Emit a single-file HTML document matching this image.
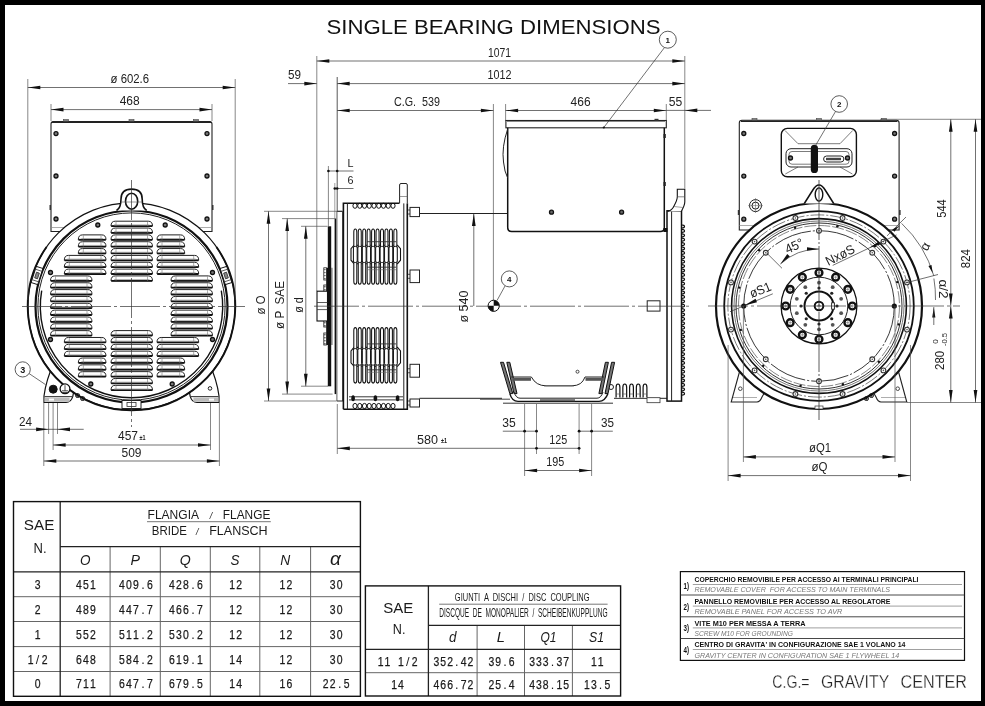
<!DOCTYPE html>
<html><head><meta charset="utf-8"><style>
html,body{margin:0;padding:0;background:#000;}
body{width:985px;height:706px;overflow:hidden;position:relative;}
svg{position:absolute;left:0;top:0;filter:grayscale(100%);}
</style></head><body>
<svg width="985" height="706" viewBox="0 0 985 706" shape-rendering="geometricPrecision">
<rect x="0" y="0" width="985" height="706" fill="#000"/>
<rect x="5" y="5" width="976" height="696" fill="#fff"/>
<text xml:space="preserve" x="326.50" y="34.00" font-family="Liberation Sans" font-size="20" font-weight="normal" fill="#111" text-anchor="start" textLength="334" lengthAdjust="spacingAndGlyphs" >SINGLE BEARING DIMENSIONS</text>
<path d="M51,231.5 L51,124 Q51,121.5 53.5,121.5 L209.5,121.5 Q212,121.5 212,124 L212,231.5 Z" stroke="#222" stroke-width="1.1" fill="none" />
<line x1="52.00" y1="122.30" x2="211.00" y2="122.30" stroke="#222" stroke-width="1.6" />
<rect x="63.50" y="119.60" width="5.00" height="1.60" rx="0" stroke="#444" stroke-width="0.6" fill="#888" />
<rect x="129.00" y="119.60" width="5.00" height="1.60" rx="0" stroke="#444" stroke-width="0.6" fill="#888" />
<rect x="193.50" y="119.60" width="5.00" height="1.60" rx="0" stroke="#444" stroke-width="0.6" fill="#888" />
<line x1="51.00" y1="227.50" x2="212.00" y2="227.50" stroke="#888" stroke-width="0.7" />
<circle cx="56.00" cy="133.60" r="2.00" stroke="#111" stroke-width="1.3" fill="#777" />
<circle cx="56.00" cy="176.00" r="2.00" stroke="#111" stroke-width="1.3" fill="#777" />
<circle cx="56.00" cy="219.00" r="2.00" stroke="#111" stroke-width="1.3" fill="#777" />
<circle cx="207.00" cy="133.60" r="2.00" stroke="#111" stroke-width="1.3" fill="#777" />
<circle cx="207.00" cy="176.00" r="2.00" stroke="#111" stroke-width="1.3" fill="#777" />
<circle cx="207.00" cy="219.00" r="2.00" stroke="#111" stroke-width="1.3" fill="#777" />
<rect x="49.50" y="205.00" width="1.50" height="5.00" rx="0" stroke="#111" stroke-width="0" fill="#333" />
<rect x="212.00" y="205.00" width="1.50" height="5.00" rx="0" stroke="#111" stroke-width="0" fill="#333" />
<path d="M44,402.5 L44,396 Q46,380 54.3,362 L62,362 L75.5,382 L72.8,396.4 Q71,402.5 66,402.5 Z" stroke="#111" stroke-width="1.2" fill="#fff" />
<path d="M219,402.5 L219,396 Q217,380 208.7,362 L201,362 L187.5,382 L190.2,396.4 Q192,402.5 197,402.5 Z" stroke="#111" stroke-width="1.2" fill="#fff" />
<line x1="44.50" y1="396.60" x2="72.00" y2="396.60" stroke="#333" stroke-width="1.0" />
<line x1="191.00" y1="396.60" x2="218.50" y2="396.60" stroke="#333" stroke-width="1.0" />
<rect x="44.60" y="397.40" width="25.00" height="4.40" rx="0" stroke="#111" stroke-width="0" fill="#bbb" />
<rect x="193.40" y="397.40" width="25.00" height="4.40" rx="0" stroke="#111" stroke-width="0" fill="#bbb" />
<rect x="49.00" y="398.60" width="5.00" height="2.00" rx="0" stroke="#111" stroke-width="0" fill="#fff" />
<rect x="209.00" y="398.60" width="5.00" height="2.00" rx="0" stroke="#111" stroke-width="0" fill="#fff" />
<line x1="50.60" y1="371.20" x2="62.80" y2="383.00" stroke="#222" stroke-width="0.9" />
<line x1="212.40" y1="371.20" x2="200.20" y2="383.00" stroke="#222" stroke-width="0.9" />
<circle cx="210.00" cy="388.40" r="1.80" stroke="#222" stroke-width="1.0" fill="none" />
<circle cx="131.50" cy="306.50" r="103.70" stroke="#111" stroke-width="1.2" fill="#fff" />
<path d="M46.55,247.02 A103.7,103.7 0 1 0 216.45,247.02" stroke="#111" stroke-width="1.9" fill="none" />
<circle cx="131.50" cy="306.50" r="96.00" stroke="#111" stroke-width="2.2" fill="none" />
<circle cx="131.50" cy="306.50" r="93.60" stroke="#222" stroke-width="1.0" fill="none" />
<path d="M41.69,290.66 A91.2,91.2 0 1 0 221.31,290.66" stroke="#111" stroke-width="1.4" fill="none" />
<g transform="rotate(18 37.00 275.5)"><rect x="33.50" y="267" width="7" height="17" fill="#fff" stroke="#111" stroke-width="1.0"/><line x1="33.50" y1="270" x2="40.50" y2="270" stroke="#444" stroke-width="0.8"/><line x1="33.50" y1="281" x2="40.50" y2="281" stroke="#444" stroke-width="0.8"/><rect x="35.50" y="272.5" width="3" height="6" fill="#888" stroke="#222" stroke-width="0.7"/></g>
<g transform="rotate(-18 226.00 275.5)"><rect x="222.50" y="267" width="7" height="17" fill="#fff" stroke="#111" stroke-width="1.0"/><line x1="222.50" y1="270" x2="229.50" y2="270" stroke="#444" stroke-width="0.8"/><line x1="222.50" y1="281" x2="229.50" y2="281" stroke="#444" stroke-width="0.8"/><rect x="224.50" y="272.5" width="3" height="6" fill="#888" stroke="#222" stroke-width="0.7"/></g>
<rect x="122.00" y="400.50" width="19.00" height="8.00" rx="0" stroke="#222" stroke-width="1.0" fill="#fff" />
<rect x="127.00" y="402.50" width="9.00" height="4.00" rx="0" stroke="#333" stroke-width="0.8" fill="none" />
<path d="M111.00,226.10 Q111.00,221.20 115.20,221.20 L148.30,221.20 Q152.50,221.20 152.50,226.10 Z" stroke="#222" stroke-width="1.0" fill="none" />
<line x1="111.30" y1="226.10" x2="152.20" y2="226.10" stroke="#111" stroke-width="1.8" />
<line x1="114.00" y1="224.90" x2="149.50" y2="224.90" stroke="#999" stroke-width="0.8" />
<line x1="116.00" y1="221.70" x2="116.00" y2="226.10" stroke="#777" stroke-width="0.6" />
<line x1="147.50" y1="221.70" x2="147.50" y2="226.10" stroke="#777" stroke-width="0.6" />
<path d="M111.00,232.94 Q111.00,228.04 115.20,228.04 L148.30,228.04 Q152.50,228.04 152.50,232.94 Z" stroke="#222" stroke-width="1.0" fill="none" />
<line x1="111.30" y1="232.94" x2="152.20" y2="232.94" stroke="#111" stroke-width="1.8" />
<line x1="114.00" y1="231.74" x2="149.50" y2="231.74" stroke="#999" stroke-width="0.8" />
<line x1="116.00" y1="228.54" x2="116.00" y2="232.94" stroke="#777" stroke-width="0.6" />
<line x1="147.50" y1="228.54" x2="147.50" y2="232.94" stroke="#777" stroke-width="0.6" />
<path d="M111.00,239.78 Q111.00,234.88 115.20,234.88 L148.30,234.88 Q152.50,234.88 152.50,239.78 Z" stroke="#222" stroke-width="1.0" fill="none" />
<line x1="111.30" y1="239.78" x2="152.20" y2="239.78" stroke="#111" stroke-width="1.8" />
<line x1="114.00" y1="238.58" x2="149.50" y2="238.58" stroke="#999" stroke-width="0.8" />
<line x1="116.00" y1="235.38" x2="116.00" y2="239.78" stroke="#777" stroke-width="0.6" />
<line x1="147.50" y1="235.38" x2="147.50" y2="239.78" stroke="#777" stroke-width="0.6" />
<path d="M111.00,246.62 Q111.00,241.72 115.20,241.72 L148.30,241.72 Q152.50,241.72 152.50,246.62 Z" stroke="#222" stroke-width="1.0" fill="none" />
<line x1="111.30" y1="246.62" x2="152.20" y2="246.62" stroke="#111" stroke-width="1.8" />
<line x1="114.00" y1="245.42" x2="149.50" y2="245.42" stroke="#999" stroke-width="0.8" />
<line x1="116.00" y1="242.22" x2="116.00" y2="246.62" stroke="#777" stroke-width="0.6" />
<line x1="147.50" y1="242.22" x2="147.50" y2="246.62" stroke="#777" stroke-width="0.6" />
<path d="M111.00,253.46 Q111.00,248.56 115.20,248.56 L148.30,248.56 Q152.50,248.56 152.50,253.46 Z" stroke="#222" stroke-width="1.0" fill="none" />
<line x1="111.30" y1="253.46" x2="152.20" y2="253.46" stroke="#111" stroke-width="1.8" />
<line x1="114.00" y1="252.26" x2="149.50" y2="252.26" stroke="#999" stroke-width="0.8" />
<line x1="116.00" y1="249.06" x2="116.00" y2="253.46" stroke="#777" stroke-width="0.6" />
<line x1="147.50" y1="249.06" x2="147.50" y2="253.46" stroke="#777" stroke-width="0.6" />
<path d="M111.00,260.30 Q111.00,255.40 115.20,255.40 L148.30,255.40 Q152.50,255.40 152.50,260.30 Z" stroke="#222" stroke-width="1.0" fill="none" />
<line x1="111.30" y1="260.30" x2="152.20" y2="260.30" stroke="#111" stroke-width="1.8" />
<line x1="114.00" y1="259.10" x2="149.50" y2="259.10" stroke="#999" stroke-width="0.8" />
<line x1="116.00" y1="255.90" x2="116.00" y2="260.30" stroke="#777" stroke-width="0.6" />
<line x1="147.50" y1="255.90" x2="147.50" y2="260.30" stroke="#777" stroke-width="0.6" />
<path d="M111.00,267.14 Q111.00,262.24 115.20,262.24 L148.30,262.24 Q152.50,262.24 152.50,267.14 Z" stroke="#222" stroke-width="1.0" fill="none" />
<line x1="111.30" y1="267.14" x2="152.20" y2="267.14" stroke="#111" stroke-width="1.8" />
<line x1="114.00" y1="265.94" x2="149.50" y2="265.94" stroke="#999" stroke-width="0.8" />
<line x1="116.00" y1="262.74" x2="116.00" y2="267.14" stroke="#777" stroke-width="0.6" />
<line x1="147.50" y1="262.74" x2="147.50" y2="267.14" stroke="#777" stroke-width="0.6" />
<path d="M111.00,273.98 Q111.00,269.08 115.20,269.08 L148.30,269.08 Q152.50,269.08 152.50,273.98 Z" stroke="#222" stroke-width="1.0" fill="none" />
<line x1="111.30" y1="273.98" x2="152.20" y2="273.98" stroke="#111" stroke-width="1.8" />
<line x1="114.00" y1="272.78" x2="149.50" y2="272.78" stroke="#999" stroke-width="0.8" />
<line x1="116.00" y1="269.58" x2="116.00" y2="273.98" stroke="#777" stroke-width="0.6" />
<line x1="147.50" y1="269.58" x2="147.50" y2="273.98" stroke="#777" stroke-width="0.6" />
<path d="M111.00,280.82 Q111.00,275.92 115.20,275.92 L148.30,275.92 Q152.50,275.92 152.50,280.82 Z" stroke="#222" stroke-width="1.0" fill="none" />
<line x1="111.30" y1="280.82" x2="152.20" y2="280.82" stroke="#111" stroke-width="1.8" />
<line x1="114.00" y1="279.62" x2="149.50" y2="279.62" stroke="#999" stroke-width="0.8" />
<line x1="116.00" y1="276.42" x2="116.00" y2="280.82" stroke="#777" stroke-width="0.6" />
<line x1="147.50" y1="276.42" x2="147.50" y2="280.82" stroke="#777" stroke-width="0.6" />
<path d="M111.00,335.50 Q111.00,330.60 115.20,330.60 L148.30,330.60 Q152.50,330.60 152.50,335.50 Z" stroke="#222" stroke-width="1.0" fill="none" />
<line x1="111.30" y1="335.50" x2="152.20" y2="335.50" stroke="#111" stroke-width="1.8" />
<line x1="114.00" y1="334.30" x2="149.50" y2="334.30" stroke="#999" stroke-width="0.8" />
<line x1="116.00" y1="331.10" x2="116.00" y2="335.50" stroke="#777" stroke-width="0.6" />
<line x1="147.50" y1="331.10" x2="147.50" y2="335.50" stroke="#777" stroke-width="0.6" />
<path d="M111.00,342.34 Q111.00,337.44 115.20,337.44 L148.30,337.44 Q152.50,337.44 152.50,342.34 Z" stroke="#222" stroke-width="1.0" fill="none" />
<line x1="111.30" y1="342.34" x2="152.20" y2="342.34" stroke="#111" stroke-width="1.8" />
<line x1="114.00" y1="341.14" x2="149.50" y2="341.14" stroke="#999" stroke-width="0.8" />
<line x1="116.00" y1="337.94" x2="116.00" y2="342.34" stroke="#777" stroke-width="0.6" />
<line x1="147.50" y1="337.94" x2="147.50" y2="342.34" stroke="#777" stroke-width="0.6" />
<path d="M111.00,349.18 Q111.00,344.28 115.20,344.28 L148.30,344.28 Q152.50,344.28 152.50,349.18 Z" stroke="#222" stroke-width="1.0" fill="none" />
<line x1="111.30" y1="349.18" x2="152.20" y2="349.18" stroke="#111" stroke-width="1.8" />
<line x1="114.00" y1="347.98" x2="149.50" y2="347.98" stroke="#999" stroke-width="0.8" />
<line x1="116.00" y1="344.78" x2="116.00" y2="349.18" stroke="#777" stroke-width="0.6" />
<line x1="147.50" y1="344.78" x2="147.50" y2="349.18" stroke="#777" stroke-width="0.6" />
<path d="M111.00,356.02 Q111.00,351.12 115.20,351.12 L148.30,351.12 Q152.50,351.12 152.50,356.02 Z" stroke="#222" stroke-width="1.0" fill="none" />
<line x1="111.30" y1="356.02" x2="152.20" y2="356.02" stroke="#111" stroke-width="1.8" />
<line x1="114.00" y1="354.82" x2="149.50" y2="354.82" stroke="#999" stroke-width="0.8" />
<line x1="116.00" y1="351.62" x2="116.00" y2="356.02" stroke="#777" stroke-width="0.6" />
<line x1="147.50" y1="351.62" x2="147.50" y2="356.02" stroke="#777" stroke-width="0.6" />
<path d="M111.00,362.86 Q111.00,357.96 115.20,357.96 L148.30,357.96 Q152.50,357.96 152.50,362.86 Z" stroke="#222" stroke-width="1.0" fill="none" />
<line x1="111.30" y1="362.86" x2="152.20" y2="362.86" stroke="#111" stroke-width="1.8" />
<line x1="114.00" y1="361.66" x2="149.50" y2="361.66" stroke="#999" stroke-width="0.8" />
<line x1="116.00" y1="358.46" x2="116.00" y2="362.86" stroke="#777" stroke-width="0.6" />
<line x1="147.50" y1="358.46" x2="147.50" y2="362.86" stroke="#777" stroke-width="0.6" />
<path d="M111.00,369.70 Q111.00,364.80 115.20,364.80 L148.30,364.80 Q152.50,364.80 152.50,369.70 Z" stroke="#222" stroke-width="1.0" fill="none" />
<line x1="111.30" y1="369.70" x2="152.20" y2="369.70" stroke="#111" stroke-width="1.8" />
<line x1="114.00" y1="368.50" x2="149.50" y2="368.50" stroke="#999" stroke-width="0.8" />
<line x1="116.00" y1="365.30" x2="116.00" y2="369.70" stroke="#777" stroke-width="0.6" />
<line x1="147.50" y1="365.30" x2="147.50" y2="369.70" stroke="#777" stroke-width="0.6" />
<path d="M111.00,376.54 Q111.00,371.64 115.20,371.64 L148.30,371.64 Q152.50,371.64 152.50,376.54 Z" stroke="#222" stroke-width="1.0" fill="none" />
<line x1="111.30" y1="376.54" x2="152.20" y2="376.54" stroke="#111" stroke-width="1.8" />
<line x1="114.00" y1="375.34" x2="149.50" y2="375.34" stroke="#999" stroke-width="0.8" />
<line x1="116.00" y1="372.14" x2="116.00" y2="376.54" stroke="#777" stroke-width="0.6" />
<line x1="147.50" y1="372.14" x2="147.50" y2="376.54" stroke="#777" stroke-width="0.6" />
<path d="M111.00,383.38 Q111.00,378.48 115.20,378.48 L148.30,378.48 Q152.50,378.48 152.50,383.38 Z" stroke="#222" stroke-width="1.0" fill="none" />
<line x1="111.30" y1="383.38" x2="152.20" y2="383.38" stroke="#111" stroke-width="1.8" />
<line x1="114.00" y1="382.18" x2="149.50" y2="382.18" stroke="#999" stroke-width="0.8" />
<line x1="116.00" y1="378.98" x2="116.00" y2="383.38" stroke="#777" stroke-width="0.6" />
<line x1="147.50" y1="378.98" x2="147.50" y2="383.38" stroke="#777" stroke-width="0.6" />
<path d="M111.00,390.22 Q111.00,385.32 115.20,385.32 L148.30,385.32 Q152.50,385.32 152.50,390.22 Z" stroke="#222" stroke-width="1.0" fill="none" />
<line x1="111.30" y1="390.22" x2="152.20" y2="390.22" stroke="#111" stroke-width="1.8" />
<line x1="114.00" y1="389.02" x2="149.50" y2="389.02" stroke="#999" stroke-width="0.8" />
<line x1="116.00" y1="385.82" x2="116.00" y2="390.22" stroke="#777" stroke-width="0.6" />
<line x1="147.50" y1="385.82" x2="147.50" y2="390.22" stroke="#777" stroke-width="0.6" />
<path d="M78.30,239.78 Q78.30,234.88 82.50,234.88 L101.80,234.88 Q106.00,234.88 106.00,239.78 Z" stroke="#222" stroke-width="1.0" fill="none" />
<line x1="78.60" y1="239.78" x2="105.70" y2="239.78" stroke="#111" stroke-width="1.8" />
<line x1="81.30" y1="238.58" x2="103.00" y2="238.58" stroke="#999" stroke-width="0.8" />
<line x1="83.30" y1="235.38" x2="83.30" y2="239.78" stroke="#777" stroke-width="0.6" />
<line x1="101.00" y1="235.38" x2="101.00" y2="239.78" stroke="#777" stroke-width="0.6" />
<path d="M157.00,239.78 Q157.00,234.88 161.20,234.88 L180.50,234.88 Q184.70,234.88 184.70,239.78 Z" stroke="#222" stroke-width="1.0" fill="none" />
<line x1="157.30" y1="239.78" x2="184.40" y2="239.78" stroke="#111" stroke-width="1.8" />
<line x1="160.00" y1="238.58" x2="181.70" y2="238.58" stroke="#999" stroke-width="0.8" />
<line x1="162.00" y1="235.38" x2="162.00" y2="239.78" stroke="#777" stroke-width="0.6" />
<line x1="179.70" y1="235.38" x2="179.70" y2="239.78" stroke="#777" stroke-width="0.6" />
<path d="M78.30,246.62 Q78.30,241.72 82.50,241.72 L101.80,241.72 Q106.00,241.72 106.00,246.62 Z" stroke="#222" stroke-width="1.0" fill="none" />
<line x1="78.60" y1="246.62" x2="105.70" y2="246.62" stroke="#111" stroke-width="1.8" />
<line x1="81.30" y1="245.42" x2="103.00" y2="245.42" stroke="#999" stroke-width="0.8" />
<line x1="83.30" y1="242.22" x2="83.30" y2="246.62" stroke="#777" stroke-width="0.6" />
<line x1="101.00" y1="242.22" x2="101.00" y2="246.62" stroke="#777" stroke-width="0.6" />
<path d="M157.00,246.62 Q157.00,241.72 161.20,241.72 L180.50,241.72 Q184.70,241.72 184.70,246.62 Z" stroke="#222" stroke-width="1.0" fill="none" />
<line x1="157.30" y1="246.62" x2="184.40" y2="246.62" stroke="#111" stroke-width="1.8" />
<line x1="160.00" y1="245.42" x2="181.70" y2="245.42" stroke="#999" stroke-width="0.8" />
<line x1="162.00" y1="242.22" x2="162.00" y2="246.62" stroke="#777" stroke-width="0.6" />
<line x1="179.70" y1="242.22" x2="179.70" y2="246.62" stroke="#777" stroke-width="0.6" />
<path d="M78.30,253.46 Q78.30,248.56 82.50,248.56 L101.80,248.56 Q106.00,248.56 106.00,253.46 Z" stroke="#222" stroke-width="1.0" fill="none" />
<line x1="78.60" y1="253.46" x2="105.70" y2="253.46" stroke="#111" stroke-width="1.8" />
<line x1="81.30" y1="252.26" x2="103.00" y2="252.26" stroke="#999" stroke-width="0.8" />
<line x1="83.30" y1="249.06" x2="83.30" y2="253.46" stroke="#777" stroke-width="0.6" />
<line x1="101.00" y1="249.06" x2="101.00" y2="253.46" stroke="#777" stroke-width="0.6" />
<path d="M157.00,253.46 Q157.00,248.56 161.20,248.56 L180.50,248.56 Q184.70,248.56 184.70,253.46 Z" stroke="#222" stroke-width="1.0" fill="none" />
<line x1="157.30" y1="253.46" x2="184.40" y2="253.46" stroke="#111" stroke-width="1.8" />
<line x1="160.00" y1="252.26" x2="181.70" y2="252.26" stroke="#999" stroke-width="0.8" />
<line x1="162.00" y1="249.06" x2="162.00" y2="253.46" stroke="#777" stroke-width="0.6" />
<line x1="179.70" y1="249.06" x2="179.70" y2="253.46" stroke="#777" stroke-width="0.6" />
<path d="M64.30,260.30 Q64.30,255.40 68.50,255.40 L101.80,255.40 Q106.00,255.40 106.00,260.30 Z" stroke="#222" stroke-width="1.0" fill="none" />
<line x1="64.60" y1="260.30" x2="105.70" y2="260.30" stroke="#111" stroke-width="1.8" />
<line x1="67.30" y1="259.10" x2="103.00" y2="259.10" stroke="#999" stroke-width="0.8" />
<line x1="69.30" y1="255.90" x2="69.30" y2="260.30" stroke="#777" stroke-width="0.6" />
<line x1="101.00" y1="255.90" x2="101.00" y2="260.30" stroke="#777" stroke-width="0.6" />
<path d="M157.00,260.30 Q157.00,255.40 161.20,255.40 L194.50,255.40 Q198.70,255.40 198.70,260.30 Z" stroke="#222" stroke-width="1.0" fill="none" />
<line x1="157.30" y1="260.30" x2="198.40" y2="260.30" stroke="#111" stroke-width="1.8" />
<line x1="160.00" y1="259.10" x2="195.70" y2="259.10" stroke="#999" stroke-width="0.8" />
<line x1="162.00" y1="255.90" x2="162.00" y2="260.30" stroke="#777" stroke-width="0.6" />
<line x1="193.70" y1="255.90" x2="193.70" y2="260.30" stroke="#777" stroke-width="0.6" />
<path d="M64.30,267.14 Q64.30,262.24 68.50,262.24 L101.80,262.24 Q106.00,262.24 106.00,267.14 Z" stroke="#222" stroke-width="1.0" fill="none" />
<line x1="64.60" y1="267.14" x2="105.70" y2="267.14" stroke="#111" stroke-width="1.8" />
<line x1="67.30" y1="265.94" x2="103.00" y2="265.94" stroke="#999" stroke-width="0.8" />
<line x1="69.30" y1="262.74" x2="69.30" y2="267.14" stroke="#777" stroke-width="0.6" />
<line x1="101.00" y1="262.74" x2="101.00" y2="267.14" stroke="#777" stroke-width="0.6" />
<path d="M157.00,267.14 Q157.00,262.24 161.20,262.24 L194.50,262.24 Q198.70,262.24 198.70,267.14 Z" stroke="#222" stroke-width="1.0" fill="none" />
<line x1="157.30" y1="267.14" x2="198.40" y2="267.14" stroke="#111" stroke-width="1.8" />
<line x1="160.00" y1="265.94" x2="195.70" y2="265.94" stroke="#999" stroke-width="0.8" />
<line x1="162.00" y1="262.74" x2="162.00" y2="267.14" stroke="#777" stroke-width="0.6" />
<line x1="193.70" y1="262.74" x2="193.70" y2="267.14" stroke="#777" stroke-width="0.6" />
<path d="M64.30,273.98 Q64.30,269.08 68.50,269.08 L101.80,269.08 Q106.00,269.08 106.00,273.98 Z" stroke="#222" stroke-width="1.0" fill="none" />
<line x1="64.60" y1="273.98" x2="105.70" y2="273.98" stroke="#111" stroke-width="1.8" />
<line x1="67.30" y1="272.78" x2="103.00" y2="272.78" stroke="#999" stroke-width="0.8" />
<line x1="69.30" y1="269.58" x2="69.30" y2="273.98" stroke="#777" stroke-width="0.6" />
<line x1="101.00" y1="269.58" x2="101.00" y2="273.98" stroke="#777" stroke-width="0.6" />
<path d="M157.00,273.98 Q157.00,269.08 161.20,269.08 L194.50,269.08 Q198.70,269.08 198.70,273.98 Z" stroke="#222" stroke-width="1.0" fill="none" />
<line x1="157.30" y1="273.98" x2="198.40" y2="273.98" stroke="#111" stroke-width="1.8" />
<line x1="160.00" y1="272.78" x2="195.70" y2="272.78" stroke="#999" stroke-width="0.8" />
<line x1="162.00" y1="269.58" x2="162.00" y2="273.98" stroke="#777" stroke-width="0.6" />
<line x1="193.70" y1="269.58" x2="193.70" y2="273.98" stroke="#777" stroke-width="0.6" />
<path d="M50.50,280.82 Q50.50,275.92 54.70,275.92 L87.80,275.92 Q92.00,275.92 92.00,280.82 Z" stroke="#222" stroke-width="1.0" fill="none" />
<line x1="50.80" y1="280.82" x2="91.70" y2="280.82" stroke="#111" stroke-width="1.8" />
<line x1="53.50" y1="279.62" x2="89.00" y2="279.62" stroke="#999" stroke-width="0.8" />
<line x1="55.50" y1="276.42" x2="55.50" y2="280.82" stroke="#777" stroke-width="0.6" />
<line x1="87.00" y1="276.42" x2="87.00" y2="280.82" stroke="#777" stroke-width="0.6" />
<path d="M171.00,280.82 Q171.00,275.92 175.20,275.92 L208.30,275.92 Q212.50,275.92 212.50,280.82 Z" stroke="#222" stroke-width="1.0" fill="none" />
<line x1="171.30" y1="280.82" x2="212.20" y2="280.82" stroke="#111" stroke-width="1.8" />
<line x1="174.00" y1="279.62" x2="209.50" y2="279.62" stroke="#999" stroke-width="0.8" />
<line x1="176.00" y1="276.42" x2="176.00" y2="280.82" stroke="#777" stroke-width="0.6" />
<line x1="207.50" y1="276.42" x2="207.50" y2="280.82" stroke="#777" stroke-width="0.6" />
<path d="M50.50,287.66 Q50.50,282.76 54.70,282.76 L87.80,282.76 Q92.00,282.76 92.00,287.66 Z" stroke="#222" stroke-width="1.0" fill="none" />
<line x1="50.80" y1="287.66" x2="91.70" y2="287.66" stroke="#111" stroke-width="1.8" />
<line x1="53.50" y1="286.46" x2="89.00" y2="286.46" stroke="#999" stroke-width="0.8" />
<line x1="55.50" y1="283.26" x2="55.50" y2="287.66" stroke="#777" stroke-width="0.6" />
<line x1="87.00" y1="283.26" x2="87.00" y2="287.66" stroke="#777" stroke-width="0.6" />
<path d="M171.00,287.66 Q171.00,282.76 175.20,282.76 L208.30,282.76 Q212.50,282.76 212.50,287.66 Z" stroke="#222" stroke-width="1.0" fill="none" />
<line x1="171.30" y1="287.66" x2="212.20" y2="287.66" stroke="#111" stroke-width="1.8" />
<line x1="174.00" y1="286.46" x2="209.50" y2="286.46" stroke="#999" stroke-width="0.8" />
<line x1="176.00" y1="283.26" x2="176.00" y2="287.66" stroke="#777" stroke-width="0.6" />
<line x1="207.50" y1="283.26" x2="207.50" y2="287.66" stroke="#777" stroke-width="0.6" />
<path d="M50.50,294.50 Q50.50,289.60 54.70,289.60 L87.80,289.60 Q92.00,289.60 92.00,294.50 Z" stroke="#222" stroke-width="1.0" fill="none" />
<line x1="50.80" y1="294.50" x2="91.70" y2="294.50" stroke="#111" stroke-width="1.8" />
<line x1="53.50" y1="293.30" x2="89.00" y2="293.30" stroke="#999" stroke-width="0.8" />
<line x1="55.50" y1="290.10" x2="55.50" y2="294.50" stroke="#777" stroke-width="0.6" />
<line x1="87.00" y1="290.10" x2="87.00" y2="294.50" stroke="#777" stroke-width="0.6" />
<path d="M171.00,294.50 Q171.00,289.60 175.20,289.60 L208.30,289.60 Q212.50,289.60 212.50,294.50 Z" stroke="#222" stroke-width="1.0" fill="none" />
<line x1="171.30" y1="294.50" x2="212.20" y2="294.50" stroke="#111" stroke-width="1.8" />
<line x1="174.00" y1="293.30" x2="209.50" y2="293.30" stroke="#999" stroke-width="0.8" />
<line x1="176.00" y1="290.10" x2="176.00" y2="294.50" stroke="#777" stroke-width="0.6" />
<line x1="207.50" y1="290.10" x2="207.50" y2="294.50" stroke="#777" stroke-width="0.6" />
<path d="M50.50,301.34 Q50.50,296.44 54.70,296.44 L87.80,296.44 Q92.00,296.44 92.00,301.34 Z" stroke="#222" stroke-width="1.0" fill="none" />
<line x1="50.80" y1="301.34" x2="91.70" y2="301.34" stroke="#111" stroke-width="1.8" />
<line x1="53.50" y1="300.14" x2="89.00" y2="300.14" stroke="#999" stroke-width="0.8" />
<line x1="55.50" y1="296.94" x2="55.50" y2="301.34" stroke="#777" stroke-width="0.6" />
<line x1="87.00" y1="296.94" x2="87.00" y2="301.34" stroke="#777" stroke-width="0.6" />
<path d="M171.00,301.34 Q171.00,296.44 175.20,296.44 L208.30,296.44 Q212.50,296.44 212.50,301.34 Z" stroke="#222" stroke-width="1.0" fill="none" />
<line x1="171.30" y1="301.34" x2="212.20" y2="301.34" stroke="#111" stroke-width="1.8" />
<line x1="174.00" y1="300.14" x2="209.50" y2="300.14" stroke="#999" stroke-width="0.8" />
<line x1="176.00" y1="296.94" x2="176.00" y2="301.34" stroke="#777" stroke-width="0.6" />
<line x1="207.50" y1="296.94" x2="207.50" y2="301.34" stroke="#777" stroke-width="0.6" />
<path d="M50.50,308.18 Q50.50,303.28 54.70,303.28 L87.80,303.28 Q92.00,303.28 92.00,308.18 Z" stroke="#222" stroke-width="1.0" fill="none" />
<line x1="50.80" y1="308.18" x2="91.70" y2="308.18" stroke="#111" stroke-width="1.8" />
<line x1="53.50" y1="306.98" x2="89.00" y2="306.98" stroke="#999" stroke-width="0.8" />
<line x1="55.50" y1="303.78" x2="55.50" y2="308.18" stroke="#777" stroke-width="0.6" />
<line x1="87.00" y1="303.78" x2="87.00" y2="308.18" stroke="#777" stroke-width="0.6" />
<path d="M171.00,308.18 Q171.00,303.28 175.20,303.28 L208.30,303.28 Q212.50,303.28 212.50,308.18 Z" stroke="#222" stroke-width="1.0" fill="none" />
<line x1="171.30" y1="308.18" x2="212.20" y2="308.18" stroke="#111" stroke-width="1.8" />
<line x1="174.00" y1="306.98" x2="209.50" y2="306.98" stroke="#999" stroke-width="0.8" />
<line x1="176.00" y1="303.78" x2="176.00" y2="308.18" stroke="#777" stroke-width="0.6" />
<line x1="207.50" y1="303.78" x2="207.50" y2="308.18" stroke="#777" stroke-width="0.6" />
<path d="M50.50,315.02 Q50.50,310.12 54.70,310.12 L87.80,310.12 Q92.00,310.12 92.00,315.02 Z" stroke="#222" stroke-width="1.0" fill="none" />
<line x1="50.80" y1="315.02" x2="91.70" y2="315.02" stroke="#111" stroke-width="1.8" />
<line x1="53.50" y1="313.82" x2="89.00" y2="313.82" stroke="#999" stroke-width="0.8" />
<line x1="55.50" y1="310.62" x2="55.50" y2="315.02" stroke="#777" stroke-width="0.6" />
<line x1="87.00" y1="310.62" x2="87.00" y2="315.02" stroke="#777" stroke-width="0.6" />
<path d="M171.00,315.02 Q171.00,310.12 175.20,310.12 L208.30,310.12 Q212.50,310.12 212.50,315.02 Z" stroke="#222" stroke-width="1.0" fill="none" />
<line x1="171.30" y1="315.02" x2="212.20" y2="315.02" stroke="#111" stroke-width="1.8" />
<line x1="174.00" y1="313.82" x2="209.50" y2="313.82" stroke="#999" stroke-width="0.8" />
<line x1="176.00" y1="310.62" x2="176.00" y2="315.02" stroke="#777" stroke-width="0.6" />
<line x1="207.50" y1="310.62" x2="207.50" y2="315.02" stroke="#777" stroke-width="0.6" />
<path d="M50.50,321.86 Q50.50,316.96 54.70,316.96 L87.80,316.96 Q92.00,316.96 92.00,321.86 Z" stroke="#222" stroke-width="1.0" fill="none" />
<line x1="50.80" y1="321.86" x2="91.70" y2="321.86" stroke="#111" stroke-width="1.8" />
<line x1="53.50" y1="320.66" x2="89.00" y2="320.66" stroke="#999" stroke-width="0.8" />
<line x1="55.50" y1="317.46" x2="55.50" y2="321.86" stroke="#777" stroke-width="0.6" />
<line x1="87.00" y1="317.46" x2="87.00" y2="321.86" stroke="#777" stroke-width="0.6" />
<path d="M171.00,321.86 Q171.00,316.96 175.20,316.96 L208.30,316.96 Q212.50,316.96 212.50,321.86 Z" stroke="#222" stroke-width="1.0" fill="none" />
<line x1="171.30" y1="321.86" x2="212.20" y2="321.86" stroke="#111" stroke-width="1.8" />
<line x1="174.00" y1="320.66" x2="209.50" y2="320.66" stroke="#999" stroke-width="0.8" />
<line x1="176.00" y1="317.46" x2="176.00" y2="321.86" stroke="#777" stroke-width="0.6" />
<line x1="207.50" y1="317.46" x2="207.50" y2="321.86" stroke="#777" stroke-width="0.6" />
<path d="M50.50,328.70 Q50.50,323.80 54.70,323.80 L87.80,323.80 Q92.00,323.80 92.00,328.70 Z" stroke="#222" stroke-width="1.0" fill="none" />
<line x1="50.80" y1="328.70" x2="91.70" y2="328.70" stroke="#111" stroke-width="1.8" />
<line x1="53.50" y1="327.50" x2="89.00" y2="327.50" stroke="#999" stroke-width="0.8" />
<line x1="55.50" y1="324.30" x2="55.50" y2="328.70" stroke="#777" stroke-width="0.6" />
<line x1="87.00" y1="324.30" x2="87.00" y2="328.70" stroke="#777" stroke-width="0.6" />
<path d="M171.00,328.70 Q171.00,323.80 175.20,323.80 L208.30,323.80 Q212.50,323.80 212.50,328.70 Z" stroke="#222" stroke-width="1.0" fill="none" />
<line x1="171.30" y1="328.70" x2="212.20" y2="328.70" stroke="#111" stroke-width="1.8" />
<line x1="174.00" y1="327.50" x2="209.50" y2="327.50" stroke="#999" stroke-width="0.8" />
<line x1="176.00" y1="324.30" x2="176.00" y2="328.70" stroke="#777" stroke-width="0.6" />
<line x1="207.50" y1="324.30" x2="207.50" y2="328.70" stroke="#777" stroke-width="0.6" />
<path d="M50.50,335.54 Q50.50,330.64 54.70,330.64 L87.80,330.64 Q92.00,330.64 92.00,335.54 Z" stroke="#222" stroke-width="1.0" fill="none" />
<line x1="50.80" y1="335.54" x2="91.70" y2="335.54" stroke="#111" stroke-width="1.8" />
<line x1="53.50" y1="334.34" x2="89.00" y2="334.34" stroke="#999" stroke-width="0.8" />
<line x1="55.50" y1="331.14" x2="55.50" y2="335.54" stroke="#777" stroke-width="0.6" />
<line x1="87.00" y1="331.14" x2="87.00" y2="335.54" stroke="#777" stroke-width="0.6" />
<path d="M171.00,335.54 Q171.00,330.64 175.20,330.64 L208.30,330.64 Q212.50,330.64 212.50,335.54 Z" stroke="#222" stroke-width="1.0" fill="none" />
<line x1="171.30" y1="335.54" x2="212.20" y2="335.54" stroke="#111" stroke-width="1.8" />
<line x1="174.00" y1="334.34" x2="209.50" y2="334.34" stroke="#999" stroke-width="0.8" />
<line x1="176.00" y1="331.14" x2="176.00" y2="335.54" stroke="#777" stroke-width="0.6" />
<line x1="207.50" y1="331.14" x2="207.50" y2="335.54" stroke="#777" stroke-width="0.6" />
<path d="M64.30,342.38 Q64.30,337.48 68.50,337.48 L101.80,337.48 Q106.00,337.48 106.00,342.38 Z" stroke="#222" stroke-width="1.0" fill="none" />
<line x1="64.60" y1="342.38" x2="105.70" y2="342.38" stroke="#111" stroke-width="1.8" />
<line x1="67.30" y1="341.18" x2="103.00" y2="341.18" stroke="#999" stroke-width="0.8" />
<line x1="69.30" y1="337.98" x2="69.30" y2="342.38" stroke="#777" stroke-width="0.6" />
<line x1="101.00" y1="337.98" x2="101.00" y2="342.38" stroke="#777" stroke-width="0.6" />
<path d="M157.00,342.38 Q157.00,337.48 161.20,337.48 L194.50,337.48 Q198.70,337.48 198.70,342.38 Z" stroke="#222" stroke-width="1.0" fill="none" />
<line x1="157.30" y1="342.38" x2="198.40" y2="342.38" stroke="#111" stroke-width="1.8" />
<line x1="160.00" y1="341.18" x2="195.70" y2="341.18" stroke="#999" stroke-width="0.8" />
<line x1="162.00" y1="337.98" x2="162.00" y2="342.38" stroke="#777" stroke-width="0.6" />
<line x1="193.70" y1="337.98" x2="193.70" y2="342.38" stroke="#777" stroke-width="0.6" />
<path d="M64.30,349.22 Q64.30,344.32 68.50,344.32 L101.80,344.32 Q106.00,344.32 106.00,349.22 Z" stroke="#222" stroke-width="1.0" fill="none" />
<line x1="64.60" y1="349.22" x2="105.70" y2="349.22" stroke="#111" stroke-width="1.8" />
<line x1="67.30" y1="348.02" x2="103.00" y2="348.02" stroke="#999" stroke-width="0.8" />
<line x1="69.30" y1="344.82" x2="69.30" y2="349.22" stroke="#777" stroke-width="0.6" />
<line x1="101.00" y1="344.82" x2="101.00" y2="349.22" stroke="#777" stroke-width="0.6" />
<path d="M157.00,349.22 Q157.00,344.32 161.20,344.32 L194.50,344.32 Q198.70,344.32 198.70,349.22 Z" stroke="#222" stroke-width="1.0" fill="none" />
<line x1="157.30" y1="349.22" x2="198.40" y2="349.22" stroke="#111" stroke-width="1.8" />
<line x1="160.00" y1="348.02" x2="195.70" y2="348.02" stroke="#999" stroke-width="0.8" />
<line x1="162.00" y1="344.82" x2="162.00" y2="349.22" stroke="#777" stroke-width="0.6" />
<line x1="193.70" y1="344.82" x2="193.70" y2="349.22" stroke="#777" stroke-width="0.6" />
<path d="M64.30,356.06 Q64.30,351.16 68.50,351.16 L101.80,351.16 Q106.00,351.16 106.00,356.06 Z" stroke="#222" stroke-width="1.0" fill="none" />
<line x1="64.60" y1="356.06" x2="105.70" y2="356.06" stroke="#111" stroke-width="1.8" />
<line x1="67.30" y1="354.86" x2="103.00" y2="354.86" stroke="#999" stroke-width="0.8" />
<line x1="69.30" y1="351.66" x2="69.30" y2="356.06" stroke="#777" stroke-width="0.6" />
<line x1="101.00" y1="351.66" x2="101.00" y2="356.06" stroke="#777" stroke-width="0.6" />
<path d="M157.00,356.06 Q157.00,351.16 161.20,351.16 L194.50,351.16 Q198.70,351.16 198.70,356.06 Z" stroke="#222" stroke-width="1.0" fill="none" />
<line x1="157.30" y1="356.06" x2="198.40" y2="356.06" stroke="#111" stroke-width="1.8" />
<line x1="160.00" y1="354.86" x2="195.70" y2="354.86" stroke="#999" stroke-width="0.8" />
<line x1="162.00" y1="351.66" x2="162.00" y2="356.06" stroke="#777" stroke-width="0.6" />
<line x1="193.70" y1="351.66" x2="193.70" y2="356.06" stroke="#777" stroke-width="0.6" />
<path d="M78.30,362.90 Q78.30,358.00 82.50,358.00 L101.80,358.00 Q106.00,358.00 106.00,362.90 Z" stroke="#222" stroke-width="1.0" fill="none" />
<line x1="78.60" y1="362.90" x2="105.70" y2="362.90" stroke="#111" stroke-width="1.8" />
<line x1="81.30" y1="361.70" x2="103.00" y2="361.70" stroke="#999" stroke-width="0.8" />
<line x1="83.30" y1="358.50" x2="83.30" y2="362.90" stroke="#777" stroke-width="0.6" />
<line x1="101.00" y1="358.50" x2="101.00" y2="362.90" stroke="#777" stroke-width="0.6" />
<path d="M157.00,362.90 Q157.00,358.00 161.20,358.00 L180.50,358.00 Q184.70,358.00 184.70,362.90 Z" stroke="#222" stroke-width="1.0" fill="none" />
<line x1="157.30" y1="362.90" x2="184.40" y2="362.90" stroke="#111" stroke-width="1.8" />
<line x1="160.00" y1="361.70" x2="181.70" y2="361.70" stroke="#999" stroke-width="0.8" />
<line x1="162.00" y1="358.50" x2="162.00" y2="362.90" stroke="#777" stroke-width="0.6" />
<line x1="179.70" y1="358.50" x2="179.70" y2="362.90" stroke="#777" stroke-width="0.6" />
<path d="M78.30,369.74 Q78.30,364.84 82.50,364.84 L101.80,364.84 Q106.00,364.84 106.00,369.74 Z" stroke="#222" stroke-width="1.0" fill="none" />
<line x1="78.60" y1="369.74" x2="105.70" y2="369.74" stroke="#111" stroke-width="1.8" />
<line x1="81.30" y1="368.54" x2="103.00" y2="368.54" stroke="#999" stroke-width="0.8" />
<line x1="83.30" y1="365.34" x2="83.30" y2="369.74" stroke="#777" stroke-width="0.6" />
<line x1="101.00" y1="365.34" x2="101.00" y2="369.74" stroke="#777" stroke-width="0.6" />
<path d="M157.00,369.74 Q157.00,364.84 161.20,364.84 L180.50,364.84 Q184.70,364.84 184.70,369.74 Z" stroke="#222" stroke-width="1.0" fill="none" />
<line x1="157.30" y1="369.74" x2="184.40" y2="369.74" stroke="#111" stroke-width="1.8" />
<line x1="160.00" y1="368.54" x2="181.70" y2="368.54" stroke="#999" stroke-width="0.8" />
<line x1="162.00" y1="365.34" x2="162.00" y2="369.74" stroke="#777" stroke-width="0.6" />
<line x1="179.70" y1="365.34" x2="179.70" y2="369.74" stroke="#777" stroke-width="0.6" />
<path d="M78.30,376.58 Q78.30,371.68 82.50,371.68 L101.80,371.68 Q106.00,371.68 106.00,376.58 Z" stroke="#222" stroke-width="1.0" fill="none" />
<line x1="78.60" y1="376.58" x2="105.70" y2="376.58" stroke="#111" stroke-width="1.8" />
<line x1="81.30" y1="375.38" x2="103.00" y2="375.38" stroke="#999" stroke-width="0.8" />
<line x1="83.30" y1="372.18" x2="83.30" y2="376.58" stroke="#777" stroke-width="0.6" />
<line x1="101.00" y1="372.18" x2="101.00" y2="376.58" stroke="#777" stroke-width="0.6" />
<path d="M157.00,376.58 Q157.00,371.68 161.20,371.68 L180.50,371.68 Q184.70,371.68 184.70,376.58 Z" stroke="#222" stroke-width="1.0" fill="none" />
<line x1="157.30" y1="376.58" x2="184.40" y2="376.58" stroke="#111" stroke-width="1.8" />
<line x1="160.00" y1="375.38" x2="181.70" y2="375.38" stroke="#999" stroke-width="0.8" />
<line x1="162.00" y1="372.18" x2="162.00" y2="376.58" stroke="#777" stroke-width="0.6" />
<line x1="179.70" y1="372.18" x2="179.70" y2="376.58" stroke="#777" stroke-width="0.6" />
<circle cx="97.80" cy="225.00" r="2.00" stroke="#111" stroke-width="1.3" fill="#777" />
<circle cx="165.20" cy="225.00" r="2.00" stroke="#111" stroke-width="1.3" fill="#777" />
<circle cx="50.50" cy="272.50" r="2.00" stroke="#111" stroke-width="1.3" fill="#777" />
<circle cx="212.50" cy="272.50" r="2.00" stroke="#111" stroke-width="1.3" fill="#777" />
<circle cx="50.50" cy="339.50" r="2.00" stroke="#111" stroke-width="1.3" fill="#777" />
<circle cx="212.50" cy="339.50" r="2.00" stroke="#111" stroke-width="1.3" fill="#777" />
<circle cx="90.80" cy="384.00" r="2.00" stroke="#111" stroke-width="1.3" fill="#777" />
<circle cx="172.20" cy="384.00" r="2.00" stroke="#111" stroke-width="1.3" fill="#777" />
<path d="M116.5,210.5 Q121,208 121,199 Q121,189.1 131.6,189.1 Q142.2,189.1 142.2,199 Q142.2,208 146.7,210.5" stroke="#111" stroke-width="1.6" fill="#fff" />
<ellipse cx="131.6" cy="201.2" rx="6.1" ry="8.0" stroke="#111" stroke-width="1.6" fill="none"/>
<line x1="121.50" y1="202.00" x2="141.70" y2="202.00" stroke="#555" stroke-width="0.6" />
<circle cx="53.20" cy="389.20" r="4.00" stroke="#111" stroke-width="1" fill="#111" />
<circle cx="65.00" cy="388.80" r="4.90" stroke="#111" stroke-width="1.3" fill="#fff" />
<line x1="65.00" y1="385.20" x2="65.00" y2="390.80" stroke="#222" stroke-width="0.8" />
<line x1="62.00" y1="390.80" x2="68.00" y2="390.80" stroke="#222" stroke-width="0.8" />
<line x1="63.00" y1="392.40" x2="67.00" y2="392.40" stroke="#111" stroke-width="0.8" />
<circle cx="22.70" cy="369.40" r="7.60" stroke="#333" stroke-width="0.8" fill="#fff" />
<text xml:space="preserve" x="22.70" y="372.60" font-family="Liberation Sans" font-size="9" font-weight="bold" fill="#111" text-anchor="middle" >3</text>
<line x1="29.00" y1="373.50" x2="45.50" y2="384.60" stroke="#333" stroke-width="0.7" />
<text xml:space="preserve" x="74.00" y="396.00" font-family="Liberation Sans" font-size="7" font-weight="bold" fill="#111" text-anchor="start" transform="rotate(30 74.00 396.00)" >⊕⊕</text>
<line x1="131.50" y1="180.00" x2="131.50" y2="427.00" stroke="#333" stroke-width="0.7" stroke-dasharray="40,3,3,3"/>
<line x1="22.00" y1="306.50" x2="245.00" y2="306.50" stroke="#333" stroke-width="0.7" stroke-dasharray="40,3,3,3"/>
<line x1="27.80" y1="79.00" x2="27.80" y2="300.00" stroke="#555" stroke-width="0.7" />
<line x1="235.20" y1="79.00" x2="235.20" y2="300.00" stroke="#555" stroke-width="0.7" />
<line x1="27.80" y1="87.50" x2="235.20" y2="87.50" stroke="#333" stroke-width="0.7" />
<path d="M27.80,87.50 L40.30,85.65 L40.30,89.35 Z" fill="#111" stroke="none"/>
<path d="M235.20,87.50 L222.70,89.35 L222.70,85.65 Z" fill="#111" stroke="none"/>
<text xml:space="preserve" x="129.80" y="82.80" font-family="Liberation Sans" font-size="12.5" font-weight="normal" fill="#222" text-anchor="middle" textLength="38.5" lengthAdjust="spacingAndGlyphs" >ø 602.6</text>
<line x1="51.00" y1="104.00" x2="51.00" y2="121.00" stroke="#555" stroke-width="0.7" />
<line x1="212.00" y1="104.00" x2="212.00" y2="121.00" stroke="#555" stroke-width="0.7" />
<line x1="51.00" y1="109.60" x2="212.00" y2="109.60" stroke="#333" stroke-width="0.7" />
<path d="M51.00,109.60 L63.50,107.75 L63.50,111.45 Z" fill="#111" stroke="none"/>
<path d="M212.00,109.60 L199.50,111.45 L199.50,107.75 Z" fill="#111" stroke="none"/>
<text xml:space="preserve" x="129.70" y="105.30" font-family="Liberation Sans" font-size="12.5" font-weight="normal" fill="#222" text-anchor="middle" textLength="20" lengthAdjust="spacingAndGlyphs" >468</text>
<line x1="43.80" y1="403.00" x2="43.80" y2="466.00" stroke="#555" stroke-width="0.7" />
<line x1="48.60" y1="403.00" x2="48.60" y2="434.00" stroke="#555" stroke-width="0.7" />
<line x1="53.10" y1="403.00" x2="53.10" y2="450.00" stroke="#555" stroke-width="0.7" />
<line x1="57.50" y1="403.00" x2="57.50" y2="434.00" stroke="#555" stroke-width="0.7" />
<line x1="210.50" y1="403.00" x2="210.50" y2="450.00" stroke="#555" stroke-width="0.7" />
<line x1="219.40" y1="403.00" x2="219.40" y2="466.00" stroke="#555" stroke-width="0.7" />
<line x1="20.00" y1="429.30" x2="83.70" y2="429.30" stroke="#333" stroke-width="0.7" />
<path d="M48.60,429.30 L36.10,431.15 L36.10,427.45 Z" fill="#111" stroke="none"/>
<path d="M57.50,429.30 L70.00,427.45 L70.00,431.15 Z" fill="#111" stroke="none"/>
<text xml:space="preserve" x="25.50" y="425.50" font-family="Liberation Sans" font-size="12" font-weight="normal" fill="#222" text-anchor="middle" textLength="13" lengthAdjust="spacingAndGlyphs" >24</text>
<line x1="53.10" y1="445.00" x2="210.50" y2="445.00" stroke="#333" stroke-width="0.7" />
<path d="M53.10,445.00 L65.60,443.15 L65.60,446.85 Z" fill="#111" stroke="none"/>
<path d="M210.50,445.00 L198.00,446.85 L198.00,443.15 Z" fill="#111" stroke="none"/>
<text xml:space="preserve" x="128.00" y="440.00" font-family="Liberation Sans" font-size="12" font-weight="normal" fill="#222" text-anchor="middle" textLength="20" lengthAdjust="spacingAndGlyphs" >457</text>
<text xml:space="preserve" x="139.50" y="439.50" font-family="Liberation Sans" font-size="7" font-weight="bold" fill="#222" text-anchor="start" textLength="6" lengthAdjust="spacingAndGlyphs" >±1</text>
<line x1="43.80" y1="461.00" x2="219.40" y2="461.00" stroke="#333" stroke-width="0.7" />
<path d="M43.80,461.00 L56.30,459.15 L56.30,462.85 Z" fill="#111" stroke="none"/>
<path d="M219.40,461.00 L206.90,462.85 L206.90,459.15 Z" fill="#111" stroke="none"/>
<text xml:space="preserve" x="131.50" y="457.00" font-family="Liberation Sans" font-size="12" font-weight="normal" fill="#222" text-anchor="middle" textLength="20" lengthAdjust="spacingAndGlyphs" >509</text>
<line x1="316.80" y1="56.00" x2="316.80" y2="291.00" stroke="#555" stroke-width="0.7" />
<line x1="337.20" y1="77.00" x2="337.20" y2="211.50" stroke="#444" stroke-width="0.9" />
<line x1="684.80" y1="56.00" x2="684.80" y2="188.50" stroke="#555" stroke-width="0.7" />
<line x1="493.40" y1="104.00" x2="493.40" y2="306.00" stroke="#555" stroke-width="0.7" />
<line x1="505.60" y1="104.00" x2="505.60" y2="121.00" stroke="#555" stroke-width="0.7" />
<line x1="666.30" y1="104.00" x2="666.30" y2="121.00" stroke="#555" stroke-width="0.7" />
<line x1="316.80" y1="61.00" x2="684.80" y2="61.00" stroke="#333" stroke-width="0.7" />
<path d="M316.80,61.00 L329.30,59.15 L329.30,62.85 Z" fill="#111" stroke="none"/>
<path d="M684.80,61.00 L672.30,62.85 L672.30,59.15 Z" fill="#111" stroke="none"/>
<text xml:space="preserve" x="499.50" y="56.70" font-family="Liberation Sans" font-size="12" font-weight="normal" fill="#222" text-anchor="middle" textLength="23" lengthAdjust="spacingAndGlyphs" >1071</text>
<line x1="337.20" y1="83.60" x2="684.80" y2="83.60" stroke="#333" stroke-width="0.7" />
<path d="M337.20,83.60 L349.70,81.75 L349.70,85.45 Z" fill="#111" stroke="none"/>
<path d="M684.80,83.60 L672.30,85.45 L672.30,81.75 Z" fill="#111" stroke="none"/>
<text xml:space="preserve" x="499.50" y="79.00" font-family="Liberation Sans" font-size="12" font-weight="normal" fill="#222" text-anchor="middle" textLength="24" lengthAdjust="spacingAndGlyphs" >1012</text>
<line x1="288.00" y1="83.60" x2="316.80" y2="83.60" stroke="#333" stroke-width="0.7" />
<path d="M316.80,83.60 L304.30,85.45 L304.30,81.75 Z" fill="#111" stroke="none"/>
<text xml:space="preserve" x="294.50" y="79.00" font-family="Liberation Sans" font-size="12" font-weight="normal" fill="#222" text-anchor="middle" textLength="13" lengthAdjust="spacingAndGlyphs" >59</text>
<line x1="337.20" y1="110.50" x2="493.40" y2="110.50" stroke="#333" stroke-width="0.7" />
<path d="M337.20,110.50 L349.70,108.65 L349.70,112.35 Z" fill="#111" stroke="none"/>
<path d="M493.40,110.50 L480.90,112.35 L480.90,108.65 Z" fill="#111" stroke="none"/>
<text xml:space="preserve" x="417.00" y="106.00" font-family="Liberation Sans" font-size="12" font-weight="normal" fill="#222" text-anchor="middle" textLength="46" lengthAdjust="spacingAndGlyphs" >C.G.  539</text>
<line x1="505.60" y1="110.50" x2="666.30" y2="110.50" stroke="#333" stroke-width="0.7" />
<path d="M505.60,110.50 L518.10,108.65 L518.10,112.35 Z" fill="#111" stroke="none"/>
<path d="M666.30,110.50 L653.80,112.35 L653.80,108.65 Z" fill="#111" stroke="none"/>
<text xml:space="preserve" x="580.60" y="106.00" font-family="Liberation Sans" font-size="12" font-weight="normal" fill="#222" text-anchor="middle" textLength="20" lengthAdjust="spacingAndGlyphs" >466</text>
<line x1="666.30" y1="110.40" x2="711.00" y2="110.40" stroke="#333" stroke-width="0.7" />
<path d="M684.80,110.40 L697.30,108.55 L697.30,112.25 Z" fill="#111" stroke="none"/>
<text xml:space="preserve" x="675.50" y="106.00" font-family="Liberation Sans" font-size="12" font-weight="normal" fill="#222" text-anchor="middle" textLength="13.5" lengthAdjust="spacingAndGlyphs" >55</text>
<line x1="328.40" y1="166.00" x2="328.40" y2="226.00" stroke="#555" stroke-width="0.7" />
<line x1="334.80" y1="183.00" x2="334.80" y2="218.00" stroke="#777" stroke-width="0.7" />
<line x1="328.40" y1="171.00" x2="353.50" y2="171.00" stroke="#333" stroke-width="0.7" />
<circle cx="328.40" cy="171.00" r="1.3" fill="#111"/>
<circle cx="337.20" cy="171.00" r="1.3" fill="#111"/>
<text xml:space="preserve" x="350.50" y="166.70" font-family="Liberation Sans" font-size="11" font-weight="normal" fill="#222" text-anchor="middle" textLength="6" lengthAdjust="spacingAndGlyphs" >L</text>
<line x1="334.80" y1="188.50" x2="353.50" y2="188.50" stroke="#333" stroke-width="0.7" />
<circle cx="334.80" cy="188.50" r="1.3" fill="#111"/>
<circle cx="337.20" cy="188.50" r="1.3" fill="#111"/>
<text xml:space="preserve" x="350.50" y="184.30" font-family="Liberation Sans" font-size="11" font-weight="normal" fill="#222" text-anchor="middle" textLength="6" lengthAdjust="spacingAndGlyphs" >6</text>
<line x1="264.00" y1="211.30" x2="342.30" y2="211.30" stroke="#555" stroke-width="0.7" />
<line x1="282.00" y1="218.60" x2="335.50" y2="218.60" stroke="#555" stroke-width="0.7" />
<line x1="301.00" y1="226.30" x2="327.50" y2="226.30" stroke="#555" stroke-width="0.7" />
<line x1="264.00" y1="401.00" x2="336.60" y2="401.00" stroke="#555" stroke-width="0.7" />
<line x1="282.00" y1="394.10" x2="332.60" y2="394.10" stroke="#555" stroke-width="0.7" />
<line x1="301.00" y1="386.20" x2="328.00" y2="386.20" stroke="#555" stroke-width="0.7" />
<line x1="268.50" y1="211.30" x2="268.50" y2="401.00" stroke="#333" stroke-width="0.7" />
<path d="M268.50,211.30 L270.35,223.80 L266.65,223.80 Z" fill="#111" stroke="none"/>
<path d="M268.50,401.00 L266.65,388.50 L270.35,388.50 Z" fill="#111" stroke="none"/>
<line x1="287.20" y1="218.60" x2="287.20" y2="394.10" stroke="#333" stroke-width="0.7" />
<path d="M287.20,218.60 L289.05,231.10 L285.35,231.10 Z" fill="#111" stroke="none"/>
<path d="M287.20,394.10 L285.35,381.60 L289.05,381.60 Z" fill="#111" stroke="none"/>
<line x1="305.80" y1="226.30" x2="305.80" y2="386.20" stroke="#333" stroke-width="0.7" />
<path d="M305.80,226.30 L307.65,238.80 L303.95,238.80 Z" fill="#111" stroke="none"/>
<path d="M305.80,386.20 L303.95,373.70 L307.65,373.70 Z" fill="#111" stroke="none"/>
<text xml:space="preserve" x="265.30" y="305.00" font-family="Liberation Sans" font-size="13.5" font-weight="normal" fill="#222" text-anchor="middle" transform="rotate(-90 265.30 305.00)" textLength="19" lengthAdjust="spacingAndGlyphs" >ø O</text>
<text xml:space="preserve" x="284.30" y="305.00" font-family="Liberation Sans" font-size="13.5" font-weight="normal" fill="#222" text-anchor="middle" transform="rotate(-90 284.30 305.00)" textLength="48" lengthAdjust="spacingAndGlyphs" >ø P  SAE</text>
<text xml:space="preserve" x="303.00" y="305.00" font-family="Liberation Sans" font-size="13.5" font-weight="normal" fill="#222" text-anchor="middle" transform="rotate(-90 303.00 305.00)" textLength="15.5" lengthAdjust="spacingAndGlyphs" >ø d</text>
<rect x="327.80" y="226.30" width="3.40" height="160.00" rx="0" stroke="#111" stroke-width="0" fill="#111" />
<rect x="326.20" y="267.80" width="5.00" height="77.20" rx="0" stroke="#111" stroke-width="0" fill="#111" />
<line x1="332.00" y1="267.80" x2="332.00" y2="345.00" stroke="#444" stroke-width="0.8" />
<rect x="323.80" y="267.80" width="2.60" height="12.20" rx="0" stroke="#222" stroke-width="0.8" fill="#fff" />
<circle cx="324.90" cy="269.60" r="0.7" fill="#333"/>
<circle cx="324.90" cy="272.60" r="0.7" fill="#333"/>
<circle cx="324.90" cy="275.60" r="0.7" fill="#333"/>
<circle cx="324.90" cy="278.60" r="0.7" fill="#333"/>
<rect x="323.80" y="285.00" width="2.60" height="12.00" rx="0" stroke="#222" stroke-width="0.8" fill="#fff" />
<circle cx="324.90" cy="286.80" r="0.7" fill="#333"/>
<circle cx="324.90" cy="289.80" r="0.7" fill="#333"/>
<circle cx="324.90" cy="292.80" r="0.7" fill="#333"/>
<circle cx="324.90" cy="295.80" r="0.7" fill="#333"/>
<rect x="323.80" y="315.00" width="2.60" height="12.00" rx="0" stroke="#222" stroke-width="0.8" fill="#fff" />
<circle cx="324.90" cy="316.80" r="0.7" fill="#333"/>
<circle cx="324.90" cy="319.80" r="0.7" fill="#333"/>
<circle cx="324.90" cy="322.80" r="0.7" fill="#333"/>
<circle cx="324.90" cy="325.80" r="0.7" fill="#333"/>
<rect x="323.80" y="333.00" width="2.60" height="12.00" rx="0" stroke="#222" stroke-width="0.8" fill="#fff" />
<circle cx="324.90" cy="334.80" r="0.7" fill="#333"/>
<circle cx="324.90" cy="337.80" r="0.7" fill="#333"/>
<circle cx="324.90" cy="340.80" r="0.7" fill="#333"/>
<circle cx="324.90" cy="343.80" r="0.7" fill="#333"/>
<rect x="317.00" y="291.20" width="10.50" height="29.80" rx="0" stroke="#111" stroke-width="1.1" fill="#fff" />
<line x1="317.00" y1="302.50" x2="327.50" y2="302.50" stroke="#333" stroke-width="0.8" />
<line x1="317.00" y1="309.60" x2="327.50" y2="309.60" stroke="#333" stroke-width="0.8" />
<line x1="335.40" y1="218.60" x2="335.40" y2="394.10" stroke="#111" stroke-width="1.6" />
<line x1="336.90" y1="211.30" x2="336.90" y2="401.00" stroke="#333" stroke-width="0.8" />
<line x1="337.20" y1="211.30" x2="342.50" y2="211.30" stroke="#222" stroke-width="1.0" />
<line x1="342.50" y1="211.30" x2="342.50" y2="401.00" stroke="#333" stroke-width="0.8" />
<line x1="336.90" y1="401.00" x2="343.40" y2="401.00" stroke="#222" stroke-width="1.0" />
<path d="M343.4,409.2 L343.4,203.2 L399.5,203.2 M407.3,203.2 L407.3,409.2 L343.4,409.2" stroke="#111" stroke-width="1.6" fill="none" />
<line x1="347.40" y1="203.20" x2="347.40" y2="409.20" stroke="#222" stroke-width="1.0" />
<line x1="403.80" y1="203.20" x2="403.80" y2="409.20" stroke="#222" stroke-width="1.0" />
<path d="M399.6,203.2 L399.6,185 Q399.6,183.5 401,183.5 L406,183.5 Q407.3,183.5 407.3,185 L407.3,203.2" stroke="#222" stroke-width="1.0" fill="#fff" />
<line x1="399.60" y1="196.50" x2="407.30" y2="196.50" stroke="#555" stroke-width="0.6" />
<ellipse cx="355.00" cy="205.8" rx="2.1" ry="2.5" stroke="#111" stroke-width="1.0" fill="none"/>
<ellipse cx="355.00" cy="406.0" rx="2.1" ry="2.6" stroke="#111" stroke-width="1.0" fill="none"/>
<ellipse cx="359.75" cy="205.8" rx="2.1" ry="2.5" stroke="#111" stroke-width="1.0" fill="none"/>
<ellipse cx="359.75" cy="406.0" rx="2.1" ry="2.6" stroke="#111" stroke-width="1.0" fill="none"/>
<ellipse cx="364.50" cy="205.8" rx="2.1" ry="2.5" stroke="#111" stroke-width="1.0" fill="none"/>
<ellipse cx="364.50" cy="406.0" rx="2.1" ry="2.6" stroke="#111" stroke-width="1.0" fill="none"/>
<ellipse cx="369.25" cy="205.8" rx="2.1" ry="2.5" stroke="#111" stroke-width="1.0" fill="none"/>
<ellipse cx="369.25" cy="406.0" rx="2.1" ry="2.6" stroke="#111" stroke-width="1.0" fill="none"/>
<ellipse cx="374.00" cy="205.8" rx="2.1" ry="2.5" stroke="#111" stroke-width="1.0" fill="none"/>
<ellipse cx="374.00" cy="406.0" rx="2.1" ry="2.6" stroke="#111" stroke-width="1.0" fill="none"/>
<ellipse cx="378.75" cy="205.8" rx="2.1" ry="2.5" stroke="#111" stroke-width="1.0" fill="none"/>
<ellipse cx="378.75" cy="406.0" rx="2.1" ry="2.6" stroke="#111" stroke-width="1.0" fill="none"/>
<ellipse cx="383.50" cy="205.8" rx="2.1" ry="2.5" stroke="#111" stroke-width="1.0" fill="none"/>
<ellipse cx="383.50" cy="406.0" rx="2.1" ry="2.6" stroke="#111" stroke-width="1.0" fill="none"/>
<ellipse cx="388.25" cy="205.8" rx="2.1" ry="2.5" stroke="#111" stroke-width="1.0" fill="none"/>
<ellipse cx="388.25" cy="406.0" rx="2.1" ry="2.6" stroke="#111" stroke-width="1.0" fill="none"/>
<ellipse cx="393.00" cy="205.8" rx="2.1" ry="2.5" stroke="#111" stroke-width="1.0" fill="none"/>
<ellipse cx="393.00" cy="406.0" rx="2.1" ry="2.6" stroke="#111" stroke-width="1.0" fill="none"/>
<line x1="349.00" y1="396.80" x2="403.00" y2="396.80" stroke="#222" stroke-width="0.9" />
<line x1="349.00" y1="399.90" x2="403.00" y2="399.90" stroke="#222" stroke-width="0.9" />
<ellipse cx="353.1" cy="398.3" rx="1.8" ry="3" fill="#111"/>
<ellipse cx="375.4" cy="398.3" rx="1.8" ry="3" fill="#111"/>
<ellipse cx="397.6" cy="398.3" rx="1.8" ry="3" fill="#111"/>
<path d="M354,245.20 L397.5,245.20 L400.5,248.70 L400.5,260.20 L397.5,263.70 L354,263.70 L351,260.20 L351,248.70 Z" stroke="#111" stroke-width="1.1" fill="#fff" />
<path d="M353.80,232.00 Q353.80,229.00 355.30,229.00 Q356.80,229.00 356.80,232.00 L356.80,281.20 Q356.80,284.20 355.30,284.20 Q353.80,284.20 353.80,281.20 Z" stroke="#111" stroke-width="1.05" fill="#fff" />
<rect x="353.40" y="246.40" width="3.80" height="16.10" rx="1.5" stroke="#111" stroke-width="1.0" fill="#fff" />
<path d="M358.25,232.00 Q358.25,229.00 359.75,229.00 Q361.25,229.00 361.25,232.00 L361.25,281.20 Q361.25,284.20 359.75,284.20 Q358.25,284.20 358.25,281.20 Z" stroke="#111" stroke-width="1.05" fill="#fff" />
<rect x="357.85" y="246.40" width="3.80" height="16.10" rx="1.5" stroke="#111" stroke-width="1.0" fill="#fff" />
<path d="M362.70,232.00 Q362.70,229.00 364.20,229.00 Q365.70,229.00 365.70,232.00 L365.70,281.20 Q365.70,284.20 364.20,284.20 Q362.70,284.20 362.70,281.20 Z" stroke="#111" stroke-width="1.05" fill="#fff" />
<rect x="362.30" y="246.40" width="3.80" height="16.10" rx="1.5" stroke="#111" stroke-width="1.0" fill="#fff" />
<path d="M367.15,232.00 Q367.15,229.00 368.65,229.00 Q370.15,229.00 370.15,232.00 L370.15,281.20 Q370.15,284.20 368.65,284.20 Q367.15,284.20 367.15,281.20 Z" stroke="#111" stroke-width="1.05" fill="#fff" />
<rect x="366.75" y="246.40" width="3.80" height="16.10" rx="1.5" stroke="#111" stroke-width="1.0" fill="#fff" />
<path d="M371.60,232.00 Q371.60,229.00 373.10,229.00 Q374.60,229.00 374.60,232.00 L374.60,281.20 Q374.60,284.20 373.10,284.20 Q371.60,284.20 371.60,281.20 Z" stroke="#111" stroke-width="1.05" fill="#fff" />
<rect x="371.20" y="246.40" width="3.80" height="16.10" rx="1.5" stroke="#111" stroke-width="1.0" fill="#fff" />
<path d="M376.05,232.00 Q376.05,229.00 377.55,229.00 Q379.05,229.00 379.05,232.00 L379.05,281.20 Q379.05,284.20 377.55,284.20 Q376.05,284.20 376.05,281.20 Z" stroke="#111" stroke-width="1.05" fill="#fff" />
<rect x="375.65" y="246.40" width="3.80" height="16.10" rx="1.5" stroke="#111" stroke-width="1.0" fill="#fff" />
<path d="M380.50,232.00 Q380.50,229.00 382.00,229.00 Q383.50,229.00 383.50,232.00 L383.50,281.20 Q383.50,284.20 382.00,284.20 Q380.50,284.20 380.50,281.20 Z" stroke="#111" stroke-width="1.05" fill="#fff" />
<rect x="380.10" y="246.40" width="3.80" height="16.10" rx="1.5" stroke="#111" stroke-width="1.0" fill="#fff" />
<path d="M384.95,232.00 Q384.95,229.00 386.45,229.00 Q387.95,229.00 387.95,232.00 L387.95,281.20 Q387.95,284.20 386.45,284.20 Q384.95,284.20 384.95,281.20 Z" stroke="#111" stroke-width="1.05" fill="#fff" />
<rect x="384.55" y="246.40" width="3.80" height="16.10" rx="1.5" stroke="#111" stroke-width="1.0" fill="#fff" />
<path d="M389.40,232.00 Q389.40,229.00 390.90,229.00 Q392.40,229.00 392.40,232.00 L392.40,281.20 Q392.40,284.20 390.90,284.20 Q389.40,284.20 389.40,281.20 Z" stroke="#111" stroke-width="1.05" fill="#fff" />
<rect x="389.00" y="246.40" width="3.80" height="16.10" rx="1.5" stroke="#111" stroke-width="1.0" fill="#fff" />
<path d="M393.85,232.00 Q393.85,229.00 395.35,229.00 Q396.85,229.00 396.85,232.00 L396.85,281.20 Q396.85,284.20 395.35,284.20 Q393.85,284.20 393.85,281.20 Z" stroke="#111" stroke-width="1.05" fill="#fff" />
<rect x="393.45" y="246.40" width="3.80" height="16.10" rx="1.5" stroke="#111" stroke-width="1.0" fill="#fff" />
<line x1="367.00" y1="241.70" x2="396.00" y2="241.70" stroke="#333" stroke-width="0.9" />
<line x1="367.00" y1="267.20" x2="396.00" y2="267.20" stroke="#333" stroke-width="0.9" />
<line x1="367.00" y1="269.70" x2="396.00" y2="269.70" stroke="#666" stroke-width="0.6" />
<path d="M354,347.40 L397.5,347.40 L400.5,350.90 L400.5,362.80 L397.5,366.30 L354,366.30 L351,362.80 L351,350.90 Z" stroke="#111" stroke-width="1.1" fill="#fff" />
<path d="M353.80,330.60 Q353.80,327.60 355.30,327.60 Q356.80,327.60 356.80,330.60 L356.80,380.10 Q356.80,383.10 355.30,383.10 Q353.80,383.10 353.80,380.10 Z" stroke="#111" stroke-width="1.05" fill="#fff" />
<rect x="353.40" y="348.60" width="3.80" height="16.50" rx="1.5" stroke="#111" stroke-width="1.0" fill="#fff" />
<path d="M358.25,330.60 Q358.25,327.60 359.75,327.60 Q361.25,327.60 361.25,330.60 L361.25,380.10 Q361.25,383.10 359.75,383.10 Q358.25,383.10 358.25,380.10 Z" stroke="#111" stroke-width="1.05" fill="#fff" />
<rect x="357.85" y="348.60" width="3.80" height="16.50" rx="1.5" stroke="#111" stroke-width="1.0" fill="#fff" />
<path d="M362.70,330.60 Q362.70,327.60 364.20,327.60 Q365.70,327.60 365.70,330.60 L365.70,380.10 Q365.70,383.10 364.20,383.10 Q362.70,383.10 362.70,380.10 Z" stroke="#111" stroke-width="1.05" fill="#fff" />
<rect x="362.30" y="348.60" width="3.80" height="16.50" rx="1.5" stroke="#111" stroke-width="1.0" fill="#fff" />
<path d="M367.15,330.60 Q367.15,327.60 368.65,327.60 Q370.15,327.60 370.15,330.60 L370.15,380.10 Q370.15,383.10 368.65,383.10 Q367.15,383.10 367.15,380.10 Z" stroke="#111" stroke-width="1.05" fill="#fff" />
<rect x="366.75" y="348.60" width="3.80" height="16.50" rx="1.5" stroke="#111" stroke-width="1.0" fill="#fff" />
<path d="M371.60,330.60 Q371.60,327.60 373.10,327.60 Q374.60,327.60 374.60,330.60 L374.60,380.10 Q374.60,383.10 373.10,383.10 Q371.60,383.10 371.60,380.10 Z" stroke="#111" stroke-width="1.05" fill="#fff" />
<rect x="371.20" y="348.60" width="3.80" height="16.50" rx="1.5" stroke="#111" stroke-width="1.0" fill="#fff" />
<path d="M376.05,330.60 Q376.05,327.60 377.55,327.60 Q379.05,327.60 379.05,330.60 L379.05,380.10 Q379.05,383.10 377.55,383.10 Q376.05,383.10 376.05,380.10 Z" stroke="#111" stroke-width="1.05" fill="#fff" />
<rect x="375.65" y="348.60" width="3.80" height="16.50" rx="1.5" stroke="#111" stroke-width="1.0" fill="#fff" />
<path d="M380.50,330.60 Q380.50,327.60 382.00,327.60 Q383.50,327.60 383.50,330.60 L383.50,380.10 Q383.50,383.10 382.00,383.10 Q380.50,383.10 380.50,380.10 Z" stroke="#111" stroke-width="1.05" fill="#fff" />
<rect x="380.10" y="348.60" width="3.80" height="16.50" rx="1.5" stroke="#111" stroke-width="1.0" fill="#fff" />
<path d="M384.95,330.60 Q384.95,327.60 386.45,327.60 Q387.95,327.60 387.95,330.60 L387.95,380.10 Q387.95,383.10 386.45,383.10 Q384.95,383.10 384.95,380.10 Z" stroke="#111" stroke-width="1.05" fill="#fff" />
<rect x="384.55" y="348.60" width="3.80" height="16.50" rx="1.5" stroke="#111" stroke-width="1.0" fill="#fff" />
<path d="M389.40,330.60 Q389.40,327.60 390.90,327.60 Q392.40,327.60 392.40,330.60 L392.40,380.10 Q392.40,383.10 390.90,383.10 Q389.40,383.10 389.40,380.10 Z" stroke="#111" stroke-width="1.05" fill="#fff" />
<rect x="389.00" y="348.60" width="3.80" height="16.50" rx="1.5" stroke="#111" stroke-width="1.0" fill="#fff" />
<path d="M393.85,330.60 Q393.85,327.60 395.35,327.60 Q396.85,327.60 396.85,330.60 L396.85,380.10 Q396.85,383.10 395.35,383.10 Q393.85,383.10 393.85,380.10 Z" stroke="#111" stroke-width="1.05" fill="#fff" />
<rect x="393.45" y="348.60" width="3.80" height="16.50" rx="1.5" stroke="#111" stroke-width="1.0" fill="#fff" />
<line x1="367.00" y1="343.90" x2="396.00" y2="343.90" stroke="#333" stroke-width="0.9" />
<line x1="367.00" y1="369.80" x2="396.00" y2="369.80" stroke="#333" stroke-width="0.9" />
<line x1="367.00" y1="372.30" x2="396.00" y2="372.30" stroke="#666" stroke-width="0.6" />
<rect x="410.00" y="207.40" width="9.50" height="9.20" rx="0" stroke="#222" stroke-width="1.0" fill="#fff" />
<line x1="407.30" y1="210.00" x2="410.00" y2="210.00" stroke="#111" stroke-width="0.7" />
<line x1="407.30" y1="214.00" x2="410.00" y2="214.00" stroke="#111" stroke-width="0.7" />
<rect x="410.00" y="270.00" width="9.50" height="12.60" rx="0" stroke="#222" stroke-width="1.0" fill="#fff" />
<line x1="407.30" y1="274.30" x2="410.00" y2="274.30" stroke="#111" stroke-width="0.7" />
<line x1="407.30" y1="278.30" x2="410.00" y2="278.30" stroke="#111" stroke-width="0.7" />
<rect x="410.00" y="364.30" width="9.50" height="12.90" rx="0" stroke="#222" stroke-width="1.0" fill="#fff" />
<line x1="407.30" y1="368.75" x2="410.00" y2="368.75" stroke="#111" stroke-width="0.7" />
<line x1="407.30" y1="372.75" x2="410.00" y2="372.75" stroke="#111" stroke-width="0.7" />
<rect x="410.00" y="399.00" width="9.50" height="8.00" rx="0" stroke="#222" stroke-width="1.0" fill="#fff" />
<line x1="407.30" y1="401.00" x2="410.00" y2="401.00" stroke="#111" stroke-width="0.7" />
<line x1="407.30" y1="405.00" x2="410.00" y2="405.00" stroke="#111" stroke-width="0.7" />
<line x1="419.50" y1="213.50" x2="507.70" y2="213.50" stroke="#222" stroke-width="1.1" />
<line x1="419.50" y1="398.30" x2="502.00" y2="398.30" stroke="#222" stroke-width="1.0" />
<line x1="614.00" y1="398.30" x2="667.00" y2="398.30" stroke="#222" stroke-width="1.0" />
<rect x="505.90" y="120.50" width="160.40" height="7.30" rx="0" stroke="#222" stroke-width="1.1" fill="#fff" />
<line x1="507.00" y1="120.80" x2="665.00" y2="120.80" stroke="#222" stroke-width="1.5" />
<path d="M507.7,127.8 L507.7,227.5 Q507.7,231.5 511.7,231.5 L660.3,231.5 Q664.3,231.5 664.3,227.5 L664.3,127.8" stroke="#111" stroke-width="1.5" fill="none" />
<path d="M507.7,129 Q501.5,147 503.5,162 Q504.5,172 507.7,178" stroke="#222" stroke-width="1.0" fill="none" />
<rect x="663.50" y="134.00" width="2.30" height="4.00" rx="0" stroke="#111" stroke-width="0" fill="#222" />
<rect x="663.50" y="182.00" width="2.30" height="4.00" rx="0" stroke="#111" stroke-width="0" fill="#222" />
<circle cx="551.50" cy="212.20" r="2.00" stroke="#111" stroke-width="1.3" fill="#666" />
<circle cx="621.60" cy="212.20" r="2.00" stroke="#111" stroke-width="1.3" fill="#666" />
<rect x="654.50" y="118.80" width="4.00" height="2.00" rx="0" stroke="#111" stroke-width="0" fill="#333" />
<circle cx="667.80" cy="39.70" r="8.50" stroke="#333" stroke-width="0.8" fill="#fff" />
<text xml:space="preserve" x="667.80" y="43.00" font-family="Liberation Sans" font-size="8" font-weight="bold" fill="#111" text-anchor="middle" >1</text>
<line x1="664.50" y1="47.50" x2="603.80" y2="127.50" stroke="#333" stroke-width="0.7" />
<circle cx="603.80" cy="127.50" r="1.1" fill="#111"/>
<rect x="667.00" y="210.80" width="14.50" height="190.30" rx="0" stroke="#111" stroke-width="1.5" fill="#fff" />
<line x1="671.60" y1="210.80" x2="671.60" y2="401.00" stroke="#222" stroke-width="1.0" />
<path d="M681.5,225.00 C685.5,224.70 685.5,228.30 681.5,228.00" stroke="#111" stroke-width="1.2" fill="none" />
<path d="M681.5,229.40 C685.5,229.10 685.5,232.70 681.5,232.40" stroke="#111" stroke-width="1.2" fill="none" />
<path d="M681.5,233.80 C685.5,233.50 685.5,237.10 681.5,236.80" stroke="#111" stroke-width="1.2" fill="none" />
<path d="M681.5,238.20 C685.5,237.90 685.5,241.50 681.5,241.20" stroke="#111" stroke-width="1.2" fill="none" />
<path d="M681.5,242.60 C685.5,242.30 685.5,245.90 681.5,245.60" stroke="#111" stroke-width="1.2" fill="none" />
<path d="M681.5,247.00 C685.5,246.70 685.5,250.30 681.5,250.00" stroke="#111" stroke-width="1.2" fill="none" />
<path d="M681.5,251.40 C685.5,251.10 685.5,254.70 681.5,254.40" stroke="#111" stroke-width="1.2" fill="none" />
<path d="M681.5,255.80 C685.5,255.50 685.5,259.10 681.5,258.80" stroke="#111" stroke-width="1.2" fill="none" />
<path d="M681.5,260.20 C685.5,259.90 685.5,263.50 681.5,263.20" stroke="#111" stroke-width="1.2" fill="none" />
<path d="M681.5,264.60 C685.5,264.30 685.5,267.90 681.5,267.60" stroke="#111" stroke-width="1.2" fill="none" />
<path d="M681.5,269.00 C685.5,268.70 685.5,272.30 681.5,272.00" stroke="#111" stroke-width="1.2" fill="none" />
<path d="M681.5,273.40 C685.5,273.10 685.5,276.70 681.5,276.40" stroke="#111" stroke-width="1.2" fill="none" />
<path d="M681.5,277.80 C685.5,277.50 685.5,281.10 681.5,280.80" stroke="#111" stroke-width="1.2" fill="none" />
<path d="M681.5,282.20 C685.5,281.90 685.5,285.50 681.5,285.20" stroke="#111" stroke-width="1.2" fill="none" />
<path d="M681.5,286.60 C685.5,286.30 685.5,289.90 681.5,289.60" stroke="#111" stroke-width="1.2" fill="none" />
<path d="M681.5,291.00 C685.5,290.70 685.5,294.30 681.5,294.00" stroke="#111" stroke-width="1.2" fill="none" />
<path d="M681.5,295.40 C685.5,295.10 685.5,298.70 681.5,298.40" stroke="#111" stroke-width="1.2" fill="none" />
<path d="M681.5,299.80 C685.5,299.50 685.5,303.10 681.5,302.80" stroke="#111" stroke-width="1.2" fill="none" />
<path d="M681.5,304.20 C685.5,303.90 685.5,307.50 681.5,307.20" stroke="#111" stroke-width="1.2" fill="none" />
<path d="M681.5,308.60 C685.5,308.30 685.5,311.90 681.5,311.60" stroke="#111" stroke-width="1.2" fill="none" />
<path d="M681.5,313.00 C685.5,312.70 685.5,316.30 681.5,316.00" stroke="#111" stroke-width="1.2" fill="none" />
<path d="M681.5,317.40 C685.5,317.10 685.5,320.70 681.5,320.40" stroke="#111" stroke-width="1.2" fill="none" />
<path d="M681.5,321.80 C685.5,321.50 685.5,325.10 681.5,324.80" stroke="#111" stroke-width="1.2" fill="none" />
<path d="M681.5,326.20 C685.5,325.90 685.5,329.50 681.5,329.20" stroke="#111" stroke-width="1.2" fill="none" />
<path d="M681.5,330.60 C685.5,330.30 685.5,333.90 681.5,333.60" stroke="#111" stroke-width="1.2" fill="none" />
<path d="M681.5,335.00 C685.5,334.70 685.5,338.30 681.5,338.00" stroke="#111" stroke-width="1.2" fill="none" />
<path d="M681.5,339.40 C685.5,339.10 685.5,342.70 681.5,342.40" stroke="#111" stroke-width="1.2" fill="none" />
<path d="M681.5,343.80 C685.5,343.50 685.5,347.10 681.5,346.80" stroke="#111" stroke-width="1.2" fill="none" />
<path d="M681.5,348.20 C685.5,347.90 685.5,351.50 681.5,351.20" stroke="#111" stroke-width="1.2" fill="none" />
<path d="M681.5,352.60 C685.5,352.30 685.5,355.90 681.5,355.60" stroke="#111" stroke-width="1.2" fill="none" />
<path d="M681.5,357.00 C685.5,356.70 685.5,360.30 681.5,360.00" stroke="#111" stroke-width="1.2" fill="none" />
<path d="M681.5,361.40 C685.5,361.10 685.5,364.70 681.5,364.40" stroke="#111" stroke-width="1.2" fill="none" />
<path d="M681.5,365.80 C685.5,365.50 685.5,369.10 681.5,368.80" stroke="#111" stroke-width="1.2" fill="none" />
<path d="M681.5,370.20 C685.5,369.90 685.5,373.50 681.5,373.20" stroke="#111" stroke-width="1.2" fill="none" />
<path d="M681.5,374.60 C685.5,374.30 685.5,377.90 681.5,377.60" stroke="#111" stroke-width="1.2" fill="none" />
<path d="M681.5,379.00 C685.5,378.70 685.5,382.30 681.5,382.00" stroke="#111" stroke-width="1.2" fill="none" />
<path d="M681.5,383.40 C685.5,383.10 685.5,386.70 681.5,386.40" stroke="#111" stroke-width="1.2" fill="none" />
<path d="M681.5,387.80 C685.5,387.50 685.5,391.10 681.5,390.80" stroke="#111" stroke-width="1.2" fill="none" />
<path d="M681.5,392.20 C685.5,391.90 685.5,395.50 681.5,395.20" stroke="#111" stroke-width="1.2" fill="none" />
<path d="M667.5,211.5 Q672,210.5 674,206 Q677.3,200 677.3,196.8 L677.3,189.3 L684.8,189.3 L684.8,201.7 Q684.8,205 681.5,211" stroke="#111" stroke-width="1.1" fill="#fff" />
<line x1="677.30" y1="196.80" x2="684.80" y2="196.80" stroke="#555" stroke-width="0.7" />
<line x1="674.00" y1="206.50" x2="683.00" y2="207.50" stroke="#777" stroke-width="0.7" />
<rect x="663.40" y="228.00" width="4.00" height="4.00" rx="0" stroke="#111" stroke-width="0" fill="#111" />
<rect x="647.20" y="300.80" width="12.80" height="10.30" rx="0" stroke="#222" stroke-width="1.0" fill="#fff" />
<rect x="647.00" y="397.70" width="13.00" height="5.00" rx="0" stroke="#333" stroke-width="0.8" fill="#fff" />
<path d="M616.10,397.5 L616.10,387.5 Q616.10,384 618.00,384 Q619.90,384 619.90,387.5 L619.90,397.5" stroke="#111" stroke-width="1.2" fill="#fff" />
<line x1="616.10" y1="394.00" x2="619.90" y2="394.00" stroke="#555" stroke-width="0.6" />
<path d="M622.85,397.5 L622.85,387.5 Q622.85,384 624.75,384 Q626.65,384 626.65,387.5 L626.65,397.5" stroke="#111" stroke-width="1.2" fill="#fff" />
<line x1="622.85" y1="394.00" x2="626.65" y2="394.00" stroke="#555" stroke-width="0.6" />
<path d="M629.60,397.5 L629.60,387.5 Q629.60,384 631.50,384 Q633.40,384 633.40,387.5 L633.40,397.5" stroke="#111" stroke-width="1.2" fill="#fff" />
<line x1="629.60" y1="394.00" x2="633.40" y2="394.00" stroke="#555" stroke-width="0.6" />
<path d="M636.35,397.5 L636.35,387.5 Q636.35,384 638.25,384 Q640.15,384 640.15,387.5 L640.15,397.5" stroke="#111" stroke-width="1.2" fill="#fff" />
<line x1="636.35" y1="394.00" x2="640.15" y2="394.00" stroke="#555" stroke-width="0.6" />
<path d="M643.10,397.5 L643.10,387.5 Q643.10,384 645.00,384 Q646.90,384 646.90,387.5 L646.90,397.5" stroke="#111" stroke-width="1.2" fill="#fff" />
<line x1="643.10" y1="394.00" x2="646.90" y2="394.00" stroke="#555" stroke-width="0.6" />
<circle cx="611.00" cy="387.00" r="2.50" stroke="#222" stroke-width="1" fill="#fff" />
<path d="M500.50,362.30 L503.50,362.30 L512.80,393.60 L509.80,393.60 Z" stroke="#111" stroke-width="1.0" fill="#777" />
<path d="M506.80,362.30 L509.80,362.30 L517.00,393.60 L514.00,393.60 Z" stroke="#111" stroke-width="1.0" fill="#777" />
<path d="M605.40,362.30 L608.40,362.30 L601.90,393.60 L598.90,393.60 Z" stroke="#111" stroke-width="1.0" fill="#777" />
<path d="M611.60,362.30 L614.60,362.30 L608.00,393.60 L605.00,393.60 Z" stroke="#111" stroke-width="1.0" fill="#777" />
<path d="M509.8,393.6 Q512,401.4 518,401.4 L599,401.4 Q605,401.4 608,393.6" stroke="#111" stroke-width="1.4" fill="none" />
<path d="M514.0,392 Q516,398.2 520,398.2 L597,398.2 Q601,398.2 603,392" stroke="#222" stroke-width="1.0" fill="none" />
<path d="M511.3,377 L531.4,377 Q536,385.8 546,385.8 L572,385.8 Q582,385.8 585,377 L604,377" stroke="#222" stroke-width="1.0" fill="none" />
<rect x="512.50" y="377.80" width="18.50" height="3.00" rx="0" stroke="#111" stroke-width="0" fill="#555" />
<rect x="585.50" y="377.80" width="18.00" height="3.00" rx="0" stroke="#111" stroke-width="0" fill="#555" />
<line x1="544.00" y1="386.30" x2="574.00" y2="386.30" stroke="#888" stroke-width="0.6" />
<circle cx="577.50" cy="371.70" r="1.50" stroke="#333" stroke-width="0.9" fill="none" />
<line x1="503.00" y1="403.20" x2="613.00" y2="403.20" stroke="#333" stroke-width="1.0" />
<rect x="540.00" y="399.20" width="35.00" height="2.00" rx="0" stroke="#111" stroke-width="0" fill="#666" />
<line x1="480.00" y1="399.20" x2="510.00" y2="399.20" stroke="#333" stroke-width="0.9" />
<line x1="314.00" y1="306.20" x2="691.00" y2="306.20" stroke="#333" stroke-width="0.7" stroke-dasharray="45,3,3,3"/>
<circle cx="493.70" cy="305.80" r="5.60" stroke="#111" stroke-width="1.0" fill="#fff" />
<path d="M493.7,305.8 L493.7,300.2 A5.6,5.6 0 0 1 499.3,305.8 Z" stroke="#111" stroke-width="0" fill="#111" />
<path d="M493.7,305.8 L493.7,311.4 A5.6,5.6 0 0 1 488.1,305.8 Z" stroke="#111" stroke-width="0" fill="#111" />
<circle cx="509.30" cy="278.90" r="8.00" stroke="#333" stroke-width="0.8" fill="#fff" />
<text xml:space="preserve" x="509.30" y="282.20" font-family="Liberation Sans" font-size="8" font-weight="bold" fill="#111" text-anchor="middle" >4</text>
<line x1="505.00" y1="286.00" x2="497.00" y2="300.50" stroke="#333" stroke-width="0.7" />
<line x1="473.80" y1="213.50" x2="473.80" y2="306.00" stroke="#333" stroke-width="0.7" />
<path d="M473.80,213.50 L475.65,226.00 L471.95,226.00 Z" fill="#111" stroke="none"/>
<text xml:space="preserve" x="467.80" y="306.50" font-family="Liberation Sans" font-size="12.5" font-weight="normal" fill="#222" text-anchor="middle" transform="rotate(-90 467.80 306.50)" textLength="32" lengthAdjust="spacingAndGlyphs" >ø 540</text>
<line x1="337.30" y1="404.00" x2="337.30" y2="454.00" stroke="#555" stroke-width="0.7" />
<line x1="337.30" y1="448.30" x2="536.50" y2="448.30" stroke="#333" stroke-width="0.7" />
<path d="M337.30,448.30 L349.80,446.45 L349.80,450.15 Z" fill="#111" stroke="none"/>
<text xml:space="preserve" x="427.50" y="443.80" font-family="Liberation Sans" font-size="12" font-weight="normal" fill="#222" text-anchor="middle" textLength="21" lengthAdjust="spacingAndGlyphs" >580</text>
<text xml:space="preserve" x="441.00" y="442.50" font-family="Liberation Sans" font-size="7" font-weight="bold" fill="#222" text-anchor="start" textLength="6" lengthAdjust="spacingAndGlyphs" >±1</text>
<line x1="524.60" y1="404.00" x2="524.60" y2="476.00" stroke="#555" stroke-width="0.7" />
<line x1="536.50" y1="404.00" x2="536.50" y2="454.00" stroke="#555" stroke-width="0.7" />
<line x1="579.10" y1="404.00" x2="579.10" y2="454.00" stroke="#555" stroke-width="0.7" />
<line x1="591.60" y1="404.00" x2="591.60" y2="476.00" stroke="#555" stroke-width="0.7" />
<line x1="502.80" y1="431.20" x2="536.50" y2="431.20" stroke="#333" stroke-width="0.7" />
<circle cx="524.60" cy="431.20" r="1.4" fill="#111"/>
<circle cx="536.50" cy="431.20" r="1.4" fill="#111"/>
<line x1="579.10" y1="431.20" x2="612.80" y2="431.20" stroke="#333" stroke-width="0.7" />
<circle cx="579.10" cy="431.20" r="1.4" fill="#111"/>
<circle cx="591.60" cy="431.20" r="1.4" fill="#111"/>
<text xml:space="preserve" x="509.00" y="426.60" font-family="Liberation Sans" font-size="12" font-weight="normal" fill="#222" text-anchor="middle" textLength="13.5" lengthAdjust="spacingAndGlyphs" >35</text>
<text xml:space="preserve" x="607.50" y="426.60" font-family="Liberation Sans" font-size="12" font-weight="normal" fill="#222" text-anchor="middle" textLength="13" lengthAdjust="spacingAndGlyphs" >35</text>
<line x1="536.50" y1="448.30" x2="579.10" y2="448.30" stroke="#333" stroke-width="0.7" />
<circle cx="536.50" cy="448.30" r="1.4" fill="#111"/>
<circle cx="579.10" cy="448.30" r="1.4" fill="#111"/>
<text xml:space="preserve" x="558.30" y="443.50" font-family="Liberation Sans" font-size="12" font-weight="normal" fill="#222" text-anchor="middle" textLength="18" lengthAdjust="spacingAndGlyphs" >125</text>
<line x1="524.60" y1="470.50" x2="591.60" y2="470.50" stroke="#333" stroke-width="0.7" />
<path d="M524.60,470.50 L537.10,468.65 L537.10,472.35 Z" fill="#111" stroke="none"/>
<path d="M591.60,470.50 L579.10,472.35 L579.10,468.65 Z" fill="#111" stroke="none"/>
<text xml:space="preserve" x="555.30" y="466.00" font-family="Liberation Sans" font-size="12" font-weight="normal" fill="#222" text-anchor="middle" textLength="18" lengthAdjust="spacingAndGlyphs" >195</text>
<path d="M739.3,230 L739.3,123 Q739.3,120.3 742,120.3 L896.4,120.3 Q899.1,120.3 899.1,123 L899.1,230 Z" stroke="#222" stroke-width="1.1" fill="#fff" />
<line x1="741.00" y1="121.20" x2="897.50" y2="121.20" stroke="#222" stroke-width="1.6" />
<rect x="752.00" y="118.60" width="5.00" height="1.60" rx="0" stroke="#444" stroke-width="0.6" fill="#888" />
<rect x="816.50" y="118.60" width="5.00" height="1.60" rx="0" stroke="#444" stroke-width="0.6" fill="#888" />
<rect x="881.50" y="118.60" width="5.00" height="1.60" rx="0" stroke="#444" stroke-width="0.6" fill="#888" />
<line x1="739.30" y1="225.50" x2="899.10" y2="225.50" stroke="#888" stroke-width="0.7" />
<circle cx="743.80" cy="133.50" r="2.00" stroke="#111" stroke-width="1.3" fill="#777" />
<circle cx="743.80" cy="176.10" r="2.00" stroke="#111" stroke-width="1.3" fill="#777" />
<circle cx="743.80" cy="219.20" r="2.00" stroke="#111" stroke-width="1.3" fill="#777" />
<circle cx="894.60" cy="133.50" r="2.00" stroke="#111" stroke-width="1.3" fill="#777" />
<circle cx="894.60" cy="176.10" r="2.00" stroke="#111" stroke-width="1.3" fill="#777" />
<circle cx="894.60" cy="219.20" r="2.00" stroke="#111" stroke-width="1.3" fill="#777" />
<rect x="737.80" y="210.00" width="1.50" height="5.00" rx="0" stroke="#111" stroke-width="0" fill="#333" />
<rect x="899.10" y="210.00" width="1.50" height="5.00" rx="0" stroke="#111" stroke-width="0" fill="#333" />
<rect x="781.30" y="128.40" width="75.10" height="48.40" rx="6" stroke="#111" stroke-width="1.4" fill="#fff" />
<rect x="786.00" y="148.70" width="66.00" height="18.30" rx="5" stroke="#222" stroke-width="1.0" fill="none" />
<rect x="789.00" y="151.50" width="60.00" height="12.70" rx="3" stroke="#444" stroke-width="0.7" fill="none" />
<line x1="785.00" y1="130.50" x2="798.00" y2="143.70" stroke="#444" stroke-width="0.7" />
<line x1="852.70" y1="130.50" x2="840.00" y2="143.70" stroke="#444" stroke-width="0.7" />
<line x1="785.30" y1="174.00" x2="798.00" y2="167.00" stroke="#444" stroke-width="0.7" />
<line x1="852.40" y1="174.00" x2="840.00" y2="167.00" stroke="#444" stroke-width="0.7" />
<line x1="798.00" y1="143.70" x2="840.00" y2="143.70" stroke="#444" stroke-width="0.7" />
<rect x="810.80" y="144.70" width="7.20" height="28.30" rx="3.6" stroke="#111" stroke-width="0" fill="#111" />
<rect x="823.60" y="156.00" width="20.30" height="6.00" rx="3" stroke="#222" stroke-width="1.0" fill="#fff" />
<rect x="826.00" y="157.80" width="15.00" height="2.40" rx="0" stroke="#111" stroke-width="0" fill="#444" />
<circle cx="790.50" cy="158.00" r="2.00" stroke="#111" stroke-width="1.3" fill="#777" />
<circle cx="847.50" cy="158.00" r="2.00" stroke="#111" stroke-width="1.3" fill="#777" />
<circle cx="839.20" cy="104.00" r="8.30" stroke="#333" stroke-width="0.8" fill="#fff" />
<text xml:space="preserve" x="839.20" y="107.30" font-family="Liberation Sans" font-size="8" font-weight="bold" fill="#111" text-anchor="middle" >2</text>
<line x1="835.50" y1="111.50" x2="815.40" y2="145.70" stroke="#333" stroke-width="0.7" />
<circle cx="755.50" cy="205.60" r="6.00" stroke="#222" stroke-width="1.0" fill="#fff" />
<circle cx="755.50" cy="205.60" r="3.50" stroke="#222" stroke-width="1.0" fill="none" />
<line x1="748.00" y1="205.60" x2="763.00" y2="205.60" stroke="#555" stroke-width="0.5" />
<line x1="755.50" y1="198.00" x2="755.50" y2="213.00" stroke="#555" stroke-width="0.5" />
<path d="M739.3,372.5 L731.2,402 L757,402 Q760,402 762,397 L766,390" stroke="#222" stroke-width="1.1" fill="#fff" />
<path d="M898.7,372.5 L906.8,402 L881,402 Q878,402 876,397 L872,390" stroke="#222" stroke-width="1.1" fill="#fff" />
<line x1="733.00" y1="397.50" x2="757.00" y2="397.50" stroke="#777" stroke-width="0.6" />
<line x1="881.00" y1="397.50" x2="905.00" y2="397.50" stroke="#777" stroke-width="0.6" />
<circle cx="740.30" cy="388.70" r="1.80" stroke="#333" stroke-width="0.9" fill="none" />
<circle cx="897.70" cy="388.70" r="1.80" stroke="#333" stroke-width="0.9" fill="none" />
<circle cx="819.00" cy="306.00" r="103.00" stroke="#111" stroke-width="2.2" fill="#fff" />
<circle cx="819.00" cy="306.00" r="94.80" stroke="#111" stroke-width="1.8" fill="none" />
<circle cx="819.00" cy="306.00" r="91.10" stroke="#444" stroke-width="0.7" fill="none" stroke-dasharray="14,2,2,2"/>
<circle cx="819.00" cy="306.00" r="87.40" stroke="#111" stroke-width="1.6" fill="none" />
<circle cx="819.00" cy="306.00" r="85.00" stroke="#555" stroke-width="0.8" fill="none" />
<circle cx="819.00" cy="306.00" r="83.00" stroke="#333" stroke-width="1.0" fill="none" />
<circle cx="819.00" cy="306.00" r="80.50" stroke="#555" stroke-width="0.7" fill="none" stroke-dasharray="12,2"/>
<circle cx="819.00" cy="306.00" r="75.30" stroke="#222" stroke-width="0.9" fill="none" stroke-dasharray="38,2,2,2"/>
<rect x="815.00" y="406.00" width="8.00" height="3.00" rx="0" stroke="#333" stroke-width="0.7" fill="#fff" />
<circle cx="842.58" cy="218.00" r="2.40" stroke="#333" stroke-width="1.1" fill="#fff" />
<circle cx="842.58" cy="218.00" r="0.8" fill="#555"/>
<circle cx="883.42" cy="241.58" r="2.40" stroke="#333" stroke-width="1.1" fill="#fff" />
<circle cx="883.42" cy="241.58" r="0.8" fill="#555"/>
<circle cx="907.00" cy="282.42" r="2.40" stroke="#333" stroke-width="1.1" fill="#fff" />
<circle cx="907.00" cy="282.42" r="0.8" fill="#555"/>
<circle cx="907.00" cy="329.58" r="2.40" stroke="#333" stroke-width="1.1" fill="#fff" />
<circle cx="907.00" cy="329.58" r="0.8" fill="#555"/>
<circle cx="883.42" cy="370.42" r="2.40" stroke="#333" stroke-width="1.1" fill="#fff" />
<circle cx="883.42" cy="370.42" r="0.8" fill="#555"/>
<circle cx="842.58" cy="394.00" r="2.40" stroke="#333" stroke-width="1.1" fill="#fff" />
<circle cx="842.58" cy="394.00" r="0.8" fill="#555"/>
<circle cx="795.42" cy="394.00" r="2.40" stroke="#333" stroke-width="1.1" fill="#fff" />
<circle cx="795.42" cy="394.00" r="0.8" fill="#555"/>
<circle cx="754.58" cy="370.42" r="2.40" stroke="#333" stroke-width="1.1" fill="#fff" />
<circle cx="754.58" cy="370.42" r="0.8" fill="#555"/>
<circle cx="731.00" cy="329.58" r="2.40" stroke="#333" stroke-width="1.1" fill="#fff" />
<circle cx="731.00" cy="329.58" r="0.8" fill="#555"/>
<circle cx="731.00" cy="282.42" r="2.40" stroke="#333" stroke-width="1.1" fill="#fff" />
<circle cx="731.00" cy="282.42" r="0.8" fill="#555"/>
<circle cx="754.58" cy="241.58" r="2.40" stroke="#333" stroke-width="1.1" fill="#fff" />
<circle cx="754.58" cy="241.58" r="0.8" fill="#555"/>
<circle cx="795.42" cy="218.00" r="2.40" stroke="#333" stroke-width="1.1" fill="#fff" />
<circle cx="795.42" cy="218.00" r="0.8" fill="#555"/>
<circle cx="819.00" cy="230.70" r="2.40" stroke="#333" stroke-width="1.1" fill="#fff" />
<circle cx="819.00" cy="230.70" r="0.8" fill="#555"/>
<circle cx="872.25" cy="252.75" r="2.40" stroke="#333" stroke-width="1.1" fill="#fff" />
<circle cx="872.25" cy="252.75" r="0.8" fill="#555"/>
<circle cx="894.30" cy="306.00" r="2.6" fill="#111"/>
<circle cx="872.25" cy="359.25" r="2.40" stroke="#333" stroke-width="1.1" fill="#fff" />
<circle cx="872.25" cy="359.25" r="0.8" fill="#555"/>
<circle cx="819.00" cy="381.30" r="2.40" stroke="#333" stroke-width="1.1" fill="#fff" />
<circle cx="819.00" cy="381.30" r="0.8" fill="#555"/>
<circle cx="765.75" cy="359.25" r="2.40" stroke="#333" stroke-width="1.1" fill="#fff" />
<circle cx="765.75" cy="359.25" r="0.8" fill="#555"/>
<circle cx="743.70" cy="306.00" r="2.6" fill="#111"/>
<circle cx="765.75" cy="252.75" r="2.40" stroke="#333" stroke-width="1.1" fill="#fff" />
<circle cx="765.75" cy="252.75" r="0.8" fill="#555"/>
<circle cx="837.40" cy="226.30" r="1.2" fill="#111"/>
<circle cx="874.79" cy="246.18" r="1.2" fill="#111"/>
<circle cx="897.23" cy="282.08" r="1.2" fill="#111"/>
<circle cx="898.70" cy="324.40" r="1.2" fill="#111"/>
<circle cx="878.82" cy="361.79" r="1.2" fill="#111"/>
<circle cx="842.92" cy="384.23" r="1.2" fill="#111"/>
<circle cx="800.60" cy="385.70" r="1.2" fill="#111"/>
<circle cx="763.21" cy="365.82" r="1.2" fill="#111"/>
<circle cx="740.77" cy="329.92" r="1.2" fill="#111"/>
<circle cx="739.30" cy="287.60" r="1.2" fill="#111"/>
<circle cx="759.18" cy="250.21" r="1.2" fill="#111"/>
<circle cx="795.08" cy="227.77" r="1.2" fill="#111"/>
<path d="M804.3,203.5 L812.5,190.5 Q819,179.5 825.5,190.5 L833.7,203.5" stroke="#111" stroke-width="1.5" fill="#fff" />
<ellipse cx="819" cy="194.5" rx="3.8" ry="6.6" stroke="#111" stroke-width="1.4" fill="#fff"/>
<circle cx="819.00" cy="306.00" r="37.90" stroke="#111" stroke-width="1.3" fill="#fff" />
<circle cx="819.00" cy="306.00" r="28.80" stroke="#222" stroke-width="1.0" fill="none" />
<circle cx="819.00" cy="306.00" r="14.50" stroke="#111" stroke-width="2.0" fill="none" />
<circle cx="819.00" cy="272.70" r="3.40" stroke="#111" stroke-width="2.4" fill="#fff" />
<line x1="817.20" y1="272.70" x2="820.80" y2="272.70" stroke="#555" stroke-width="0.5" />
<line x1="819.00" y1="270.90" x2="819.00" y2="274.50" stroke="#555" stroke-width="0.5" />
<circle cx="835.65" cy="277.16" r="3.40" stroke="#111" stroke-width="2.4" fill="#fff" />
<line x1="833.85" y1="277.16" x2="837.45" y2="277.16" stroke="#555" stroke-width="0.5" />
<line x1="835.65" y1="275.36" x2="835.65" y2="278.96" stroke="#555" stroke-width="0.5" />
<circle cx="847.84" cy="289.35" r="3.40" stroke="#111" stroke-width="2.4" fill="#fff" />
<line x1="846.04" y1="289.35" x2="849.64" y2="289.35" stroke="#555" stroke-width="0.5" />
<line x1="847.84" y1="287.55" x2="847.84" y2="291.15" stroke="#555" stroke-width="0.5" />
<circle cx="852.30" cy="306.00" r="3.40" stroke="#111" stroke-width="2.4" fill="#fff" />
<line x1="850.50" y1="306.00" x2="854.10" y2="306.00" stroke="#555" stroke-width="0.5" />
<line x1="852.30" y1="304.20" x2="852.30" y2="307.80" stroke="#555" stroke-width="0.5" />
<circle cx="847.84" cy="322.65" r="3.40" stroke="#111" stroke-width="2.4" fill="#fff" />
<line x1="846.04" y1="322.65" x2="849.64" y2="322.65" stroke="#555" stroke-width="0.5" />
<line x1="847.84" y1="320.85" x2="847.84" y2="324.45" stroke="#555" stroke-width="0.5" />
<circle cx="835.65" cy="334.84" r="3.40" stroke="#111" stroke-width="2.4" fill="#fff" />
<line x1="833.85" y1="334.84" x2="837.45" y2="334.84" stroke="#555" stroke-width="0.5" />
<line x1="835.65" y1="333.04" x2="835.65" y2="336.64" stroke="#555" stroke-width="0.5" />
<circle cx="819.00" cy="339.30" r="3.40" stroke="#111" stroke-width="2.4" fill="#fff" />
<line x1="817.20" y1="339.30" x2="820.80" y2="339.30" stroke="#555" stroke-width="0.5" />
<line x1="819.00" y1="337.50" x2="819.00" y2="341.10" stroke="#555" stroke-width="0.5" />
<circle cx="802.35" cy="334.84" r="3.40" stroke="#111" stroke-width="2.4" fill="#fff" />
<line x1="800.55" y1="334.84" x2="804.15" y2="334.84" stroke="#555" stroke-width="0.5" />
<line x1="802.35" y1="333.04" x2="802.35" y2="336.64" stroke="#555" stroke-width="0.5" />
<circle cx="790.16" cy="322.65" r="3.40" stroke="#111" stroke-width="2.4" fill="#fff" />
<line x1="788.36" y1="322.65" x2="791.96" y2="322.65" stroke="#555" stroke-width="0.5" />
<line x1="790.16" y1="320.85" x2="790.16" y2="324.45" stroke="#555" stroke-width="0.5" />
<circle cx="785.70" cy="306.00" r="3.40" stroke="#111" stroke-width="2.4" fill="#fff" />
<line x1="783.90" y1="306.00" x2="787.50" y2="306.00" stroke="#555" stroke-width="0.5" />
<line x1="785.70" y1="304.20" x2="785.70" y2="307.80" stroke="#555" stroke-width="0.5" />
<circle cx="790.16" cy="289.35" r="3.40" stroke="#111" stroke-width="2.4" fill="#fff" />
<line x1="788.36" y1="289.35" x2="791.96" y2="289.35" stroke="#555" stroke-width="0.5" />
<line x1="790.16" y1="287.55" x2="790.16" y2="291.15" stroke="#555" stroke-width="0.5" />
<circle cx="802.35" cy="277.16" r="3.40" stroke="#111" stroke-width="2.4" fill="#fff" />
<line x1="800.55" y1="277.16" x2="804.15" y2="277.16" stroke="#555" stroke-width="0.5" />
<line x1="802.35" y1="275.36" x2="802.35" y2="278.96" stroke="#555" stroke-width="0.5" />
<circle cx="819.00" cy="282.70" r="1.9" fill="#555"/>
<circle cx="832.70" cy="287.15" r="1.9" fill="#555"/>
<circle cx="841.16" cy="298.80" r="1.9" fill="#555"/>
<circle cx="841.16" cy="313.20" r="1.9" fill="#555"/>
<circle cx="832.70" cy="324.85" r="1.9" fill="#555"/>
<circle cx="819.00" cy="329.30" r="1.9" fill="#555"/>
<circle cx="805.30" cy="324.85" r="1.9" fill="#555"/>
<circle cx="796.84" cy="313.20" r="1.9" fill="#555"/>
<circle cx="796.84" cy="298.80" r="1.9" fill="#555"/>
<circle cx="805.30" cy="287.15" r="1.9" fill="#555"/>
<circle cx="819.00" cy="288.00" r="1.6" fill="#222"/>
<circle cx="831.73" cy="293.27" r="1.6" fill="#222"/>
<circle cx="837.00" cy="306.00" r="1.6" fill="#222"/>
<circle cx="831.73" cy="318.73" r="1.6" fill="#222"/>
<circle cx="819.00" cy="324.00" r="1.6" fill="#222"/>
<circle cx="806.27" cy="318.73" r="1.6" fill="#222"/>
<circle cx="801.00" cy="306.00" r="1.6" fill="#222"/>
<circle cx="806.27" cy="293.27" r="1.6" fill="#222"/>
<circle cx="819.00" cy="306.00" r="4.30" stroke="#111" stroke-width="2.0" fill="#fff" />
<line x1="817.00" y1="306.00" x2="821.00" y2="306.00" stroke="#111" stroke-width="0.5" />
<line x1="819.00" y1="304.00" x2="819.00" y2="308.00" stroke="#111" stroke-width="0.5" />
<rect x="831.60" y="302.80" width="2.80" height="6.40" rx="0" stroke="#222" stroke-width="0.9" fill="#fff" />
<line x1="819.00" y1="180.00" x2="819.00" y2="420.00" stroke="#333" stroke-width="0.8" stroke-dasharray="60,2,2,2"/>
<line x1="708.00" y1="306.00" x2="960.00" y2="306.00" stroke="#333" stroke-width="0.7" stroke-dasharray="40,3,3,3"/>
<path d="M780.4,264.0 A 57 57 0 0 1 819,249.0" stroke="#333" stroke-width="0.7" fill="none" />
<path d="M780.40,264.00 L787.27,254.00 L789.90,256.45 Z" fill="#111" stroke="none"/>
<path d="M819.00,249.00 L807.00,250.80 L807.00,247.20 Z" fill="#111" stroke="none"/>
<line x1="766.50" y1="252.80" x2="782.00" y2="268.30" stroke="#333" stroke-width="0.7" />
<text xml:space="preserve" x="796.00" y="250.00" font-family="Liberation Sans" font-size="13" font-weight="normal" fill="#222" text-anchor="middle" transform="rotate(-25 796.00 250.00)" textLength="19" lengthAdjust="spacingAndGlyphs" >45°</text>
<line x1="832.70" y1="265.40" x2="896.60" y2="234.90" stroke="#333" stroke-width="0.7" />
<path d="M869.50,247.70 L878.70,241.43 L880.16,244.50 Z" fill="#111" stroke="none"/>
<text xml:space="preserve" x="842.00" y="259.00" font-family="Liberation Sans" font-size="13" font-weight="normal" fill="#222" text-anchor="middle" transform="rotate(-27 842.00 259.00)" textLength="31" lengthAdjust="spacingAndGlyphs" >NxøS</text>
<line x1="730.00" y1="311.70" x2="772.80" y2="293.80" stroke="#333" stroke-width="0.7" />
<path d="M744.30,305.60 L755.56,298.86 L756.97,302.18 Z" fill="#111" stroke="none"/>
<text xml:space="preserve" x="762.00" y="294.00" font-family="Liberation Sans" font-size="13" font-weight="normal" fill="#222" text-anchor="middle" transform="rotate(-22 762.00 294.00)" textLength="22" lengthAdjust="spacingAndGlyphs" >øS1</text>
<path d="M 901.6,223.4 A 117 117 0 0 1 933.9,276" stroke="#333" stroke-width="0.7" fill="none" />
<path d="M 933.9,278.5 A 117 117 0 0 1 935.5,300" stroke="#333" stroke-width="0.7" fill="none" />
<line x1="887.00" y1="235.90" x2="906.00" y2="217.00" stroke="#333" stroke-width="0.7" />
<line x1="905.30" y1="283.00" x2="938.00" y2="274.50" stroke="#333" stroke-width="0.7" />
<path d="M899.50,225.50 L894.40,231.87 L892.34,229.42 Z" fill="#111" stroke="none"/>
<path d="M932.70,273.00 L928.46,266.03 L931.47,264.94 Z" fill="#111" stroke="none"/>
<path d="M933.80,307.50 L935.40,317.50 L932.20,317.50 Z" fill="#111" stroke="none"/>
<line x1="933.80" y1="307.00" x2="933.80" y2="325.00" stroke="#333" stroke-width="0.7" />
<text xml:space="preserve" x="929.00" y="248.50" font-family="Liberation Sans" font-size="13" font-weight="normal" fill="#222" text-anchor="middle" transform="rotate(-60 929.00 248.50)" >α</text>
<text xml:space="preserve" x="938.50" y="289.00" font-family="Liberation Sans" font-size="12.5" font-weight="normal" fill="#222" text-anchor="middle" transform="rotate(90 938.50 289.00)" textLength="19" lengthAdjust="spacingAndGlyphs" >α/2</text>
<line x1="880.00" y1="119.30" x2="981.00" y2="119.30" stroke="#555" stroke-width="0.7" />
<line x1="907.00" y1="402.50" x2="981.00" y2="402.50" stroke="#555" stroke-width="0.7" />
<line x1="950.80" y1="119.30" x2="950.80" y2="306.00" stroke="#333" stroke-width="0.7" />
<path d="M950.80,119.30 L952.65,131.80 L948.95,131.80 Z" fill="#111" stroke="none"/>
<path d="M950.80,306.00 L948.95,293.50 L952.65,293.50 Z" fill="#111" stroke="none"/>
<line x1="950.80" y1="306.00" x2="950.80" y2="402.50" stroke="#333" stroke-width="0.7" />
<path d="M950.80,306.00 L952.65,318.50 L948.95,318.50 Z" fill="#111" stroke="none"/>
<path d="M950.80,402.50 L948.95,390.00 L952.65,390.00 Z" fill="#111" stroke="none"/>
<line x1="975.50" y1="119.30" x2="975.50" y2="402.50" stroke="#333" stroke-width="0.7" />
<path d="M975.50,119.30 L977.35,131.80 L973.65,131.80 Z" fill="#111" stroke="none"/>
<path d="M975.50,402.50 L973.65,390.00 L977.35,390.00 Z" fill="#111" stroke="none"/>
<text xml:space="preserve" x="945.70" y="208.50" font-family="Liberation Sans" font-size="12.5" font-weight="normal" fill="#222" text-anchor="middle" transform="rotate(-90 945.70 208.50)" textLength="18.5" lengthAdjust="spacingAndGlyphs" >544</text>
<text xml:space="preserve" x="970.50" y="258.70" font-family="Liberation Sans" font-size="12.5" font-weight="normal" fill="#222" text-anchor="middle" transform="rotate(-90 970.50 258.70)" textLength="19" lengthAdjust="spacingAndGlyphs" >824</text>
<text xml:space="preserve" x="943.70" y="360.40" font-family="Liberation Sans" font-size="12.5" font-weight="normal" fill="#222" text-anchor="middle" transform="rotate(-90 943.70 360.40)" textLength="19" lengthAdjust="spacingAndGlyphs" >280</text>
<text xml:space="preserve" x="937.70" y="341.60" font-family="Liberation Sans" font-size="8" font-weight="normal" fill="#222" text-anchor="middle" transform="rotate(-90 937.70 341.60)" >0</text>
<text xml:space="preserve" x="947.00" y="339.50" font-family="Liberation Sans" font-size="8" font-weight="normal" fill="#222" text-anchor="middle" transform="rotate(-90 947.00 339.50)" textLength="13" lengthAdjust="spacingAndGlyphs" >-0.5</text>
<line x1="743.40" y1="306.00" x2="743.40" y2="462.00" stroke="#555" stroke-width="0.7" />
<line x1="895.00" y1="306.00" x2="895.00" y2="462.00" stroke="#555" stroke-width="0.7" />
<line x1="728.10" y1="345.00" x2="728.10" y2="481.00" stroke="#555" stroke-width="0.7" />
<line x1="910.50" y1="345.00" x2="910.50" y2="481.00" stroke="#555" stroke-width="0.7" />
<line x1="743.40" y1="456.90" x2="895.00" y2="456.90" stroke="#333" stroke-width="0.7" />
<path d="M743.40,456.90 L755.90,455.05 L755.90,458.75 Z" fill="#111" stroke="none"/>
<path d="M895.00,456.90 L882.50,458.75 L882.50,455.05 Z" fill="#111" stroke="none"/>
<text xml:space="preserve" x="820.00" y="451.60" font-family="Liberation Sans" font-size="13" font-weight="normal" fill="#222" text-anchor="middle" textLength="22" lengthAdjust="spacingAndGlyphs" >øQ1</text>
<line x1="728.10" y1="475.60" x2="910.50" y2="475.60" stroke="#333" stroke-width="0.7" />
<path d="M728.10,475.60 L740.60,473.75 L740.60,477.45 Z" fill="#111" stroke="none"/>
<path d="M910.50,475.60 L898.00,477.45 L898.00,473.75 Z" fill="#111" stroke="none"/>
<text xml:space="preserve" x="819.50" y="471.20" font-family="Liberation Sans" font-size="13" font-weight="normal" fill="#222" text-anchor="middle" textLength="16" lengthAdjust="spacingAndGlyphs" >øQ</text>
<text xml:space="preserve" x="865.00" y="402.00" font-family="Liberation Sans" font-size="7" font-weight="bold" fill="#111" text-anchor="start" transform="rotate(-30 865.00 402.00)" >⊕⊕</text>
<line x1="110.10" y1="546.70" x2="110.10" y2="696.30" stroke="#666" stroke-width="1.0" />
<line x1="160.30" y1="546.70" x2="160.30" y2="696.30" stroke="#666" stroke-width="1.0" />
<line x1="210.30" y1="546.70" x2="210.30" y2="696.30" stroke="#666" stroke-width="1.0" />
<line x1="259.80" y1="546.70" x2="259.80" y2="696.30" stroke="#666" stroke-width="1.0" />
<line x1="310.60" y1="546.70" x2="310.60" y2="696.30" stroke="#666" stroke-width="1.0" />
<line x1="13.50" y1="596.70" x2="360.40" y2="596.70" stroke="#666" stroke-width="1.0" />
<line x1="13.50" y1="621.50" x2="360.40" y2="621.50" stroke="#666" stroke-width="1.0" />
<line x1="13.50" y1="646.60" x2="360.40" y2="646.60" stroke="#666" stroke-width="1.0" />
<line x1="13.50" y1="671.50" x2="360.40" y2="671.50" stroke="#666" stroke-width="1.0" />
<line x1="60.20" y1="546.70" x2="360.40" y2="546.70" stroke="#222" stroke-width="1.3" />
<line x1="13.50" y1="571.80" x2="360.40" y2="571.80" stroke="#222" stroke-width="1.3" />
<line x1="60.20" y1="501.60" x2="60.20" y2="696.30" stroke="#222" stroke-width="1.3" />
<rect x="13.50" y="501.60" width="346.90" height="194.70" rx="0" stroke="#111" stroke-width="1.4" fill="none" />
<text xml:space="preserve" x="39.10" y="529.60" font-family="Liberation Sans" font-size="14" font-weight="normal" fill="#1a1a1a" text-anchor="middle" textLength="30.5" lengthAdjust="spacingAndGlyphs" >SAE</text>
<text xml:space="preserve" x="40.10" y="553.20" font-family="Liberation Sans" font-size="14" font-weight="normal" fill="#1a1a1a" text-anchor="middle" textLength="13" lengthAdjust="spacingAndGlyphs" >N.</text>
<text xml:space="preserve" x="173.30" y="518.60" font-family="Liberation Sans" font-size="13.5" font-weight="normal" fill="#1a1a1a" text-anchor="middle" textLength="51.5" lengthAdjust="spacingAndGlyphs" >FLANGIA</text>
<text xml:space="preserve" x="210.90" y="518.60" font-family="Liberation Sans" font-size="9" font-weight="normal" fill="#1a1a1a" text-anchor="middle" font-style="italic" >/</text>
<text xml:space="preserve" x="246.60" y="518.60" font-family="Liberation Sans" font-size="13.5" font-weight="normal" fill="#1a1a1a" text-anchor="middle" textLength="47.5" lengthAdjust="spacingAndGlyphs" >FLANGE</text>
<line x1="147.00" y1="521.70" x2="270.80" y2="521.70" stroke="#777" stroke-width="1.0" />
<text xml:space="preserve" x="169.30" y="534.80" font-family="Liberation Sans" font-size="13.5" font-weight="normal" fill="#1a1a1a" text-anchor="middle" textLength="35" lengthAdjust="spacingAndGlyphs" >BRIDE</text>
<text xml:space="preserve" x="197.30" y="534.80" font-family="Liberation Sans" font-size="9" font-weight="normal" fill="#1a1a1a" text-anchor="middle" font-style="italic" >/</text>
<text xml:space="preserve" x="238.40" y="534.80" font-family="Liberation Sans" font-size="13.5" font-weight="normal" fill="#1a1a1a" text-anchor="middle" textLength="58.5" lengthAdjust="spacingAndGlyphs" >FLANSCH</text>
<text xml:space="preserve" x="85.15" y="565.20" font-family="Liberation Sans" font-size="14" font-weight="normal" fill="#1a1a1a" text-anchor="middle" textLength="10.5" lengthAdjust="spacingAndGlyphs" font-style="italic" >O</text>
<text xml:space="preserve" x="135.20" y="565.20" font-family="Liberation Sans" font-size="14" font-weight="normal" fill="#1a1a1a" text-anchor="middle" textLength="9.5" lengthAdjust="spacingAndGlyphs" font-style="italic" >P</text>
<text xml:space="preserve" x="185.30" y="565.20" font-family="Liberation Sans" font-size="14" font-weight="normal" fill="#1a1a1a" text-anchor="middle" textLength="11" lengthAdjust="spacingAndGlyphs" font-style="italic" >Q</text>
<text xml:space="preserve" x="235.05" y="565.20" font-family="Liberation Sans" font-size="14" font-weight="normal" fill="#1a1a1a" text-anchor="middle" textLength="9" lengthAdjust="spacingAndGlyphs" font-style="italic" >S</text>
<text xml:space="preserve" x="285.20" y="565.20" font-family="Liberation Sans" font-size="14" font-weight="normal" fill="#1a1a1a" text-anchor="middle" textLength="10" lengthAdjust="spacingAndGlyphs" font-style="italic" >N</text>
<text xml:space="preserve" x="335.50" y="565.20" font-family="Liberation Sans" font-size="19" font-weight="normal" fill="#1a1a1a" text-anchor="middle" font-style="italic" >α</text>
<text xml:space="preserve" x="37.55" y="588.75" font-family="Liberation Sans" font-size="12.6" font-weight="normal" fill="#1a1a1a" text-anchor="middle" textLength="5.8" lengthAdjust="spacingAndGlyphs" stroke="#1a1a1a" stroke-width="0.25">3</text>
<text xml:space="preserve" x="78.85" y="588.75" font-family="Liberation Sans" font-size="12.6" font-weight="normal" fill="#1a1a1a" text-anchor="middle" textLength="5.8" lengthAdjust="spacingAndGlyphs" stroke="#1a1a1a" stroke-width="0.25">4</text>
<text xml:space="preserve" x="85.85" y="588.75" font-family="Liberation Sans" font-size="12.6" font-weight="normal" fill="#1a1a1a" text-anchor="middle" textLength="5.8" lengthAdjust="spacingAndGlyphs" stroke="#1a1a1a" stroke-width="0.25">5</text>
<text xml:space="preserve" x="92.85" y="588.75" font-family="Liberation Sans" font-size="12.6" font-weight="normal" fill="#1a1a1a" text-anchor="middle" textLength="5.8" lengthAdjust="spacingAndGlyphs" stroke="#1a1a1a" stroke-width="0.25">1</text>
<text xml:space="preserve" x="121.90" y="588.75" font-family="Liberation Sans" font-size="12.6" font-weight="normal" fill="#1a1a1a" text-anchor="middle" textLength="5.8" lengthAdjust="spacingAndGlyphs" stroke="#1a1a1a" stroke-width="0.25">4</text>
<text xml:space="preserve" x="128.90" y="588.75" font-family="Liberation Sans" font-size="12.6" font-weight="normal" fill="#1a1a1a" text-anchor="middle" textLength="5.8" lengthAdjust="spacingAndGlyphs" stroke="#1a1a1a" stroke-width="0.25">0</text>
<text xml:space="preserve" x="135.90" y="588.75" font-family="Liberation Sans" font-size="12.6" font-weight="normal" fill="#1a1a1a" text-anchor="middle" textLength="5.8" lengthAdjust="spacingAndGlyphs" stroke="#1a1a1a" stroke-width="0.25">9</text>
<text xml:space="preserve" x="142.90" y="588.75" font-family="Liberation Sans" font-size="12.6" font-weight="normal" fill="#1a1a1a" text-anchor="middle" >.</text>
<text xml:space="preserve" x="149.90" y="588.75" font-family="Liberation Sans" font-size="12.6" font-weight="normal" fill="#1a1a1a" text-anchor="middle" textLength="5.8" lengthAdjust="spacingAndGlyphs" stroke="#1a1a1a" stroke-width="0.25">6</text>
<text xml:space="preserve" x="172.00" y="588.75" font-family="Liberation Sans" font-size="12.6" font-weight="normal" fill="#1a1a1a" text-anchor="middle" textLength="5.8" lengthAdjust="spacingAndGlyphs" stroke="#1a1a1a" stroke-width="0.25">4</text>
<text xml:space="preserve" x="179.00" y="588.75" font-family="Liberation Sans" font-size="12.6" font-weight="normal" fill="#1a1a1a" text-anchor="middle" textLength="5.8" lengthAdjust="spacingAndGlyphs" stroke="#1a1a1a" stroke-width="0.25">2</text>
<text xml:space="preserve" x="186.00" y="588.75" font-family="Liberation Sans" font-size="12.6" font-weight="normal" fill="#1a1a1a" text-anchor="middle" textLength="5.8" lengthAdjust="spacingAndGlyphs" stroke="#1a1a1a" stroke-width="0.25">8</text>
<text xml:space="preserve" x="193.00" y="588.75" font-family="Liberation Sans" font-size="12.6" font-weight="normal" fill="#1a1a1a" text-anchor="middle" >.</text>
<text xml:space="preserve" x="200.00" y="588.75" font-family="Liberation Sans" font-size="12.6" font-weight="normal" fill="#1a1a1a" text-anchor="middle" textLength="5.8" lengthAdjust="spacingAndGlyphs" stroke="#1a1a1a" stroke-width="0.25">6</text>
<text xml:space="preserve" x="232.25" y="588.75" font-family="Liberation Sans" font-size="12.6" font-weight="normal" fill="#1a1a1a" text-anchor="middle" textLength="5.8" lengthAdjust="spacingAndGlyphs" stroke="#1a1a1a" stroke-width="0.25">1</text>
<text xml:space="preserve" x="239.25" y="588.75" font-family="Liberation Sans" font-size="12.6" font-weight="normal" fill="#1a1a1a" text-anchor="middle" textLength="5.8" lengthAdjust="spacingAndGlyphs" stroke="#1a1a1a" stroke-width="0.25">2</text>
<text xml:space="preserve" x="282.40" y="588.75" font-family="Liberation Sans" font-size="12.6" font-weight="normal" fill="#1a1a1a" text-anchor="middle" textLength="5.8" lengthAdjust="spacingAndGlyphs" stroke="#1a1a1a" stroke-width="0.25">1</text>
<text xml:space="preserve" x="289.40" y="588.75" font-family="Liberation Sans" font-size="12.6" font-weight="normal" fill="#1a1a1a" text-anchor="middle" textLength="5.8" lengthAdjust="spacingAndGlyphs" stroke="#1a1a1a" stroke-width="0.25">2</text>
<text xml:space="preserve" x="332.70" y="588.75" font-family="Liberation Sans" font-size="12.6" font-weight="normal" fill="#1a1a1a" text-anchor="middle" textLength="5.8" lengthAdjust="spacingAndGlyphs" stroke="#1a1a1a" stroke-width="0.25">3</text>
<text xml:space="preserve" x="339.70" y="588.75" font-family="Liberation Sans" font-size="12.6" font-weight="normal" fill="#1a1a1a" text-anchor="middle" textLength="5.8" lengthAdjust="spacingAndGlyphs" stroke="#1a1a1a" stroke-width="0.25">0</text>
<text xml:space="preserve" x="37.55" y="613.60" font-family="Liberation Sans" font-size="12.6" font-weight="normal" fill="#1a1a1a" text-anchor="middle" textLength="5.8" lengthAdjust="spacingAndGlyphs" stroke="#1a1a1a" stroke-width="0.25">2</text>
<text xml:space="preserve" x="78.85" y="613.60" font-family="Liberation Sans" font-size="12.6" font-weight="normal" fill="#1a1a1a" text-anchor="middle" textLength="5.8" lengthAdjust="spacingAndGlyphs" stroke="#1a1a1a" stroke-width="0.25">4</text>
<text xml:space="preserve" x="85.85" y="613.60" font-family="Liberation Sans" font-size="12.6" font-weight="normal" fill="#1a1a1a" text-anchor="middle" textLength="5.8" lengthAdjust="spacingAndGlyphs" stroke="#1a1a1a" stroke-width="0.25">8</text>
<text xml:space="preserve" x="92.85" y="613.60" font-family="Liberation Sans" font-size="12.6" font-weight="normal" fill="#1a1a1a" text-anchor="middle" textLength="5.8" lengthAdjust="spacingAndGlyphs" stroke="#1a1a1a" stroke-width="0.25">9</text>
<text xml:space="preserve" x="121.90" y="613.60" font-family="Liberation Sans" font-size="12.6" font-weight="normal" fill="#1a1a1a" text-anchor="middle" textLength="5.8" lengthAdjust="spacingAndGlyphs" stroke="#1a1a1a" stroke-width="0.25">4</text>
<text xml:space="preserve" x="128.90" y="613.60" font-family="Liberation Sans" font-size="12.6" font-weight="normal" fill="#1a1a1a" text-anchor="middle" textLength="5.8" lengthAdjust="spacingAndGlyphs" stroke="#1a1a1a" stroke-width="0.25">4</text>
<text xml:space="preserve" x="135.90" y="613.60" font-family="Liberation Sans" font-size="12.6" font-weight="normal" fill="#1a1a1a" text-anchor="middle" textLength="5.8" lengthAdjust="spacingAndGlyphs" stroke="#1a1a1a" stroke-width="0.25">7</text>
<text xml:space="preserve" x="142.90" y="613.60" font-family="Liberation Sans" font-size="12.6" font-weight="normal" fill="#1a1a1a" text-anchor="middle" >.</text>
<text xml:space="preserve" x="149.90" y="613.60" font-family="Liberation Sans" font-size="12.6" font-weight="normal" fill="#1a1a1a" text-anchor="middle" textLength="5.8" lengthAdjust="spacingAndGlyphs" stroke="#1a1a1a" stroke-width="0.25">7</text>
<text xml:space="preserve" x="172.00" y="613.60" font-family="Liberation Sans" font-size="12.6" font-weight="normal" fill="#1a1a1a" text-anchor="middle" textLength="5.8" lengthAdjust="spacingAndGlyphs" stroke="#1a1a1a" stroke-width="0.25">4</text>
<text xml:space="preserve" x="179.00" y="613.60" font-family="Liberation Sans" font-size="12.6" font-weight="normal" fill="#1a1a1a" text-anchor="middle" textLength="5.8" lengthAdjust="spacingAndGlyphs" stroke="#1a1a1a" stroke-width="0.25">6</text>
<text xml:space="preserve" x="186.00" y="613.60" font-family="Liberation Sans" font-size="12.6" font-weight="normal" fill="#1a1a1a" text-anchor="middle" textLength="5.8" lengthAdjust="spacingAndGlyphs" stroke="#1a1a1a" stroke-width="0.25">6</text>
<text xml:space="preserve" x="193.00" y="613.60" font-family="Liberation Sans" font-size="12.6" font-weight="normal" fill="#1a1a1a" text-anchor="middle" >.</text>
<text xml:space="preserve" x="200.00" y="613.60" font-family="Liberation Sans" font-size="12.6" font-weight="normal" fill="#1a1a1a" text-anchor="middle" textLength="5.8" lengthAdjust="spacingAndGlyphs" stroke="#1a1a1a" stroke-width="0.25">7</text>
<text xml:space="preserve" x="232.25" y="613.60" font-family="Liberation Sans" font-size="12.6" font-weight="normal" fill="#1a1a1a" text-anchor="middle" textLength="5.8" lengthAdjust="spacingAndGlyphs" stroke="#1a1a1a" stroke-width="0.25">1</text>
<text xml:space="preserve" x="239.25" y="613.60" font-family="Liberation Sans" font-size="12.6" font-weight="normal" fill="#1a1a1a" text-anchor="middle" textLength="5.8" lengthAdjust="spacingAndGlyphs" stroke="#1a1a1a" stroke-width="0.25">2</text>
<text xml:space="preserve" x="282.40" y="613.60" font-family="Liberation Sans" font-size="12.6" font-weight="normal" fill="#1a1a1a" text-anchor="middle" textLength="5.8" lengthAdjust="spacingAndGlyphs" stroke="#1a1a1a" stroke-width="0.25">1</text>
<text xml:space="preserve" x="289.40" y="613.60" font-family="Liberation Sans" font-size="12.6" font-weight="normal" fill="#1a1a1a" text-anchor="middle" textLength="5.8" lengthAdjust="spacingAndGlyphs" stroke="#1a1a1a" stroke-width="0.25">2</text>
<text xml:space="preserve" x="332.70" y="613.60" font-family="Liberation Sans" font-size="12.6" font-weight="normal" fill="#1a1a1a" text-anchor="middle" textLength="5.8" lengthAdjust="spacingAndGlyphs" stroke="#1a1a1a" stroke-width="0.25">3</text>
<text xml:space="preserve" x="339.70" y="613.60" font-family="Liberation Sans" font-size="12.6" font-weight="normal" fill="#1a1a1a" text-anchor="middle" textLength="5.8" lengthAdjust="spacingAndGlyphs" stroke="#1a1a1a" stroke-width="0.25">0</text>
<text xml:space="preserve" x="37.55" y="638.55" font-family="Liberation Sans" font-size="12.6" font-weight="normal" fill="#1a1a1a" text-anchor="middle" textLength="5.8" lengthAdjust="spacingAndGlyphs" stroke="#1a1a1a" stroke-width="0.25">1</text>
<text xml:space="preserve" x="78.85" y="638.55" font-family="Liberation Sans" font-size="12.6" font-weight="normal" fill="#1a1a1a" text-anchor="middle" textLength="5.8" lengthAdjust="spacingAndGlyphs" stroke="#1a1a1a" stroke-width="0.25">5</text>
<text xml:space="preserve" x="85.85" y="638.55" font-family="Liberation Sans" font-size="12.6" font-weight="normal" fill="#1a1a1a" text-anchor="middle" textLength="5.8" lengthAdjust="spacingAndGlyphs" stroke="#1a1a1a" stroke-width="0.25">5</text>
<text xml:space="preserve" x="92.85" y="638.55" font-family="Liberation Sans" font-size="12.6" font-weight="normal" fill="#1a1a1a" text-anchor="middle" textLength="5.8" lengthAdjust="spacingAndGlyphs" stroke="#1a1a1a" stroke-width="0.25">2</text>
<text xml:space="preserve" x="121.90" y="638.55" font-family="Liberation Sans" font-size="12.6" font-weight="normal" fill="#1a1a1a" text-anchor="middle" textLength="5.8" lengthAdjust="spacingAndGlyphs" stroke="#1a1a1a" stroke-width="0.25">5</text>
<text xml:space="preserve" x="128.90" y="638.55" font-family="Liberation Sans" font-size="12.6" font-weight="normal" fill="#1a1a1a" text-anchor="middle" textLength="5.8" lengthAdjust="spacingAndGlyphs" stroke="#1a1a1a" stroke-width="0.25">1</text>
<text xml:space="preserve" x="135.90" y="638.55" font-family="Liberation Sans" font-size="12.6" font-weight="normal" fill="#1a1a1a" text-anchor="middle" textLength="5.8" lengthAdjust="spacingAndGlyphs" stroke="#1a1a1a" stroke-width="0.25">1</text>
<text xml:space="preserve" x="142.90" y="638.55" font-family="Liberation Sans" font-size="12.6" font-weight="normal" fill="#1a1a1a" text-anchor="middle" >.</text>
<text xml:space="preserve" x="149.90" y="638.55" font-family="Liberation Sans" font-size="12.6" font-weight="normal" fill="#1a1a1a" text-anchor="middle" textLength="5.8" lengthAdjust="spacingAndGlyphs" stroke="#1a1a1a" stroke-width="0.25">2</text>
<text xml:space="preserve" x="172.00" y="638.55" font-family="Liberation Sans" font-size="12.6" font-weight="normal" fill="#1a1a1a" text-anchor="middle" textLength="5.8" lengthAdjust="spacingAndGlyphs" stroke="#1a1a1a" stroke-width="0.25">5</text>
<text xml:space="preserve" x="179.00" y="638.55" font-family="Liberation Sans" font-size="12.6" font-weight="normal" fill="#1a1a1a" text-anchor="middle" textLength="5.8" lengthAdjust="spacingAndGlyphs" stroke="#1a1a1a" stroke-width="0.25">3</text>
<text xml:space="preserve" x="186.00" y="638.55" font-family="Liberation Sans" font-size="12.6" font-weight="normal" fill="#1a1a1a" text-anchor="middle" textLength="5.8" lengthAdjust="spacingAndGlyphs" stroke="#1a1a1a" stroke-width="0.25">0</text>
<text xml:space="preserve" x="193.00" y="638.55" font-family="Liberation Sans" font-size="12.6" font-weight="normal" fill="#1a1a1a" text-anchor="middle" >.</text>
<text xml:space="preserve" x="200.00" y="638.55" font-family="Liberation Sans" font-size="12.6" font-weight="normal" fill="#1a1a1a" text-anchor="middle" textLength="5.8" lengthAdjust="spacingAndGlyphs" stroke="#1a1a1a" stroke-width="0.25">2</text>
<text xml:space="preserve" x="232.25" y="638.55" font-family="Liberation Sans" font-size="12.6" font-weight="normal" fill="#1a1a1a" text-anchor="middle" textLength="5.8" lengthAdjust="spacingAndGlyphs" stroke="#1a1a1a" stroke-width="0.25">1</text>
<text xml:space="preserve" x="239.25" y="638.55" font-family="Liberation Sans" font-size="12.6" font-weight="normal" fill="#1a1a1a" text-anchor="middle" textLength="5.8" lengthAdjust="spacingAndGlyphs" stroke="#1a1a1a" stroke-width="0.25">2</text>
<text xml:space="preserve" x="282.40" y="638.55" font-family="Liberation Sans" font-size="12.6" font-weight="normal" fill="#1a1a1a" text-anchor="middle" textLength="5.8" lengthAdjust="spacingAndGlyphs" stroke="#1a1a1a" stroke-width="0.25">1</text>
<text xml:space="preserve" x="289.40" y="638.55" font-family="Liberation Sans" font-size="12.6" font-weight="normal" fill="#1a1a1a" text-anchor="middle" textLength="5.8" lengthAdjust="spacingAndGlyphs" stroke="#1a1a1a" stroke-width="0.25">2</text>
<text xml:space="preserve" x="332.70" y="638.55" font-family="Liberation Sans" font-size="12.6" font-weight="normal" fill="#1a1a1a" text-anchor="middle" textLength="5.8" lengthAdjust="spacingAndGlyphs" stroke="#1a1a1a" stroke-width="0.25">3</text>
<text xml:space="preserve" x="339.70" y="638.55" font-family="Liberation Sans" font-size="12.6" font-weight="normal" fill="#1a1a1a" text-anchor="middle" textLength="5.8" lengthAdjust="spacingAndGlyphs" stroke="#1a1a1a" stroke-width="0.25">0</text>
<text xml:space="preserve" x="30.55" y="663.55" font-family="Liberation Sans" font-size="12.6" font-weight="normal" fill="#1a1a1a" text-anchor="middle" textLength="5.8" lengthAdjust="spacingAndGlyphs" stroke="#1a1a1a" stroke-width="0.25">1</text>
<text xml:space="preserve" x="37.55" y="663.55" font-family="Liberation Sans" font-size="12.6" font-weight="normal" fill="#1a1a1a" text-anchor="middle" >/</text>
<text xml:space="preserve" x="44.55" y="663.55" font-family="Liberation Sans" font-size="12.6" font-weight="normal" fill="#1a1a1a" text-anchor="middle" textLength="5.8" lengthAdjust="spacingAndGlyphs" stroke="#1a1a1a" stroke-width="0.25">2</text>
<text xml:space="preserve" x="78.85" y="663.55" font-family="Liberation Sans" font-size="12.6" font-weight="normal" fill="#1a1a1a" text-anchor="middle" textLength="5.8" lengthAdjust="spacingAndGlyphs" stroke="#1a1a1a" stroke-width="0.25">6</text>
<text xml:space="preserve" x="85.85" y="663.55" font-family="Liberation Sans" font-size="12.6" font-weight="normal" fill="#1a1a1a" text-anchor="middle" textLength="5.8" lengthAdjust="spacingAndGlyphs" stroke="#1a1a1a" stroke-width="0.25">4</text>
<text xml:space="preserve" x="92.85" y="663.55" font-family="Liberation Sans" font-size="12.6" font-weight="normal" fill="#1a1a1a" text-anchor="middle" textLength="5.8" lengthAdjust="spacingAndGlyphs" stroke="#1a1a1a" stroke-width="0.25">8</text>
<text xml:space="preserve" x="121.90" y="663.55" font-family="Liberation Sans" font-size="12.6" font-weight="normal" fill="#1a1a1a" text-anchor="middle" textLength="5.8" lengthAdjust="spacingAndGlyphs" stroke="#1a1a1a" stroke-width="0.25">5</text>
<text xml:space="preserve" x="128.90" y="663.55" font-family="Liberation Sans" font-size="12.6" font-weight="normal" fill="#1a1a1a" text-anchor="middle" textLength="5.8" lengthAdjust="spacingAndGlyphs" stroke="#1a1a1a" stroke-width="0.25">8</text>
<text xml:space="preserve" x="135.90" y="663.55" font-family="Liberation Sans" font-size="12.6" font-weight="normal" fill="#1a1a1a" text-anchor="middle" textLength="5.8" lengthAdjust="spacingAndGlyphs" stroke="#1a1a1a" stroke-width="0.25">4</text>
<text xml:space="preserve" x="142.90" y="663.55" font-family="Liberation Sans" font-size="12.6" font-weight="normal" fill="#1a1a1a" text-anchor="middle" >.</text>
<text xml:space="preserve" x="149.90" y="663.55" font-family="Liberation Sans" font-size="12.6" font-weight="normal" fill="#1a1a1a" text-anchor="middle" textLength="5.8" lengthAdjust="spacingAndGlyphs" stroke="#1a1a1a" stroke-width="0.25">2</text>
<text xml:space="preserve" x="172.00" y="663.55" font-family="Liberation Sans" font-size="12.6" font-weight="normal" fill="#1a1a1a" text-anchor="middle" textLength="5.8" lengthAdjust="spacingAndGlyphs" stroke="#1a1a1a" stroke-width="0.25">6</text>
<text xml:space="preserve" x="179.00" y="663.55" font-family="Liberation Sans" font-size="12.6" font-weight="normal" fill="#1a1a1a" text-anchor="middle" textLength="5.8" lengthAdjust="spacingAndGlyphs" stroke="#1a1a1a" stroke-width="0.25">1</text>
<text xml:space="preserve" x="186.00" y="663.55" font-family="Liberation Sans" font-size="12.6" font-weight="normal" fill="#1a1a1a" text-anchor="middle" textLength="5.8" lengthAdjust="spacingAndGlyphs" stroke="#1a1a1a" stroke-width="0.25">9</text>
<text xml:space="preserve" x="193.00" y="663.55" font-family="Liberation Sans" font-size="12.6" font-weight="normal" fill="#1a1a1a" text-anchor="middle" >.</text>
<text xml:space="preserve" x="200.00" y="663.55" font-family="Liberation Sans" font-size="12.6" font-weight="normal" fill="#1a1a1a" text-anchor="middle" textLength="5.8" lengthAdjust="spacingAndGlyphs" stroke="#1a1a1a" stroke-width="0.25">1</text>
<text xml:space="preserve" x="232.25" y="663.55" font-family="Liberation Sans" font-size="12.6" font-weight="normal" fill="#1a1a1a" text-anchor="middle" textLength="5.8" lengthAdjust="spacingAndGlyphs" stroke="#1a1a1a" stroke-width="0.25">1</text>
<text xml:space="preserve" x="239.25" y="663.55" font-family="Liberation Sans" font-size="12.6" font-weight="normal" fill="#1a1a1a" text-anchor="middle" textLength="5.8" lengthAdjust="spacingAndGlyphs" stroke="#1a1a1a" stroke-width="0.25">4</text>
<text xml:space="preserve" x="282.40" y="663.55" font-family="Liberation Sans" font-size="12.6" font-weight="normal" fill="#1a1a1a" text-anchor="middle" textLength="5.8" lengthAdjust="spacingAndGlyphs" stroke="#1a1a1a" stroke-width="0.25">1</text>
<text xml:space="preserve" x="289.40" y="663.55" font-family="Liberation Sans" font-size="12.6" font-weight="normal" fill="#1a1a1a" text-anchor="middle" textLength="5.8" lengthAdjust="spacingAndGlyphs" stroke="#1a1a1a" stroke-width="0.25">2</text>
<text xml:space="preserve" x="332.70" y="663.55" font-family="Liberation Sans" font-size="12.6" font-weight="normal" fill="#1a1a1a" text-anchor="middle" textLength="5.8" lengthAdjust="spacingAndGlyphs" stroke="#1a1a1a" stroke-width="0.25">3</text>
<text xml:space="preserve" x="339.70" y="663.55" font-family="Liberation Sans" font-size="12.6" font-weight="normal" fill="#1a1a1a" text-anchor="middle" textLength="5.8" lengthAdjust="spacingAndGlyphs" stroke="#1a1a1a" stroke-width="0.25">0</text>
<text xml:space="preserve" x="37.55" y="688.40" font-family="Liberation Sans" font-size="12.6" font-weight="normal" fill="#1a1a1a" text-anchor="middle" textLength="5.8" lengthAdjust="spacingAndGlyphs" stroke="#1a1a1a" stroke-width="0.25">0</text>
<text xml:space="preserve" x="78.85" y="688.40" font-family="Liberation Sans" font-size="12.6" font-weight="normal" fill="#1a1a1a" text-anchor="middle" textLength="5.8" lengthAdjust="spacingAndGlyphs" stroke="#1a1a1a" stroke-width="0.25">7</text>
<text xml:space="preserve" x="85.85" y="688.40" font-family="Liberation Sans" font-size="12.6" font-weight="normal" fill="#1a1a1a" text-anchor="middle" textLength="5.8" lengthAdjust="spacingAndGlyphs" stroke="#1a1a1a" stroke-width="0.25">1</text>
<text xml:space="preserve" x="92.85" y="688.40" font-family="Liberation Sans" font-size="12.6" font-weight="normal" fill="#1a1a1a" text-anchor="middle" textLength="5.8" lengthAdjust="spacingAndGlyphs" stroke="#1a1a1a" stroke-width="0.25">1</text>
<text xml:space="preserve" x="121.90" y="688.40" font-family="Liberation Sans" font-size="12.6" font-weight="normal" fill="#1a1a1a" text-anchor="middle" textLength="5.8" lengthAdjust="spacingAndGlyphs" stroke="#1a1a1a" stroke-width="0.25">6</text>
<text xml:space="preserve" x="128.90" y="688.40" font-family="Liberation Sans" font-size="12.6" font-weight="normal" fill="#1a1a1a" text-anchor="middle" textLength="5.8" lengthAdjust="spacingAndGlyphs" stroke="#1a1a1a" stroke-width="0.25">4</text>
<text xml:space="preserve" x="135.90" y="688.40" font-family="Liberation Sans" font-size="12.6" font-weight="normal" fill="#1a1a1a" text-anchor="middle" textLength="5.8" lengthAdjust="spacingAndGlyphs" stroke="#1a1a1a" stroke-width="0.25">7</text>
<text xml:space="preserve" x="142.90" y="688.40" font-family="Liberation Sans" font-size="12.6" font-weight="normal" fill="#1a1a1a" text-anchor="middle" >.</text>
<text xml:space="preserve" x="149.90" y="688.40" font-family="Liberation Sans" font-size="12.6" font-weight="normal" fill="#1a1a1a" text-anchor="middle" textLength="5.8" lengthAdjust="spacingAndGlyphs" stroke="#1a1a1a" stroke-width="0.25">7</text>
<text xml:space="preserve" x="172.00" y="688.40" font-family="Liberation Sans" font-size="12.6" font-weight="normal" fill="#1a1a1a" text-anchor="middle" textLength="5.8" lengthAdjust="spacingAndGlyphs" stroke="#1a1a1a" stroke-width="0.25">6</text>
<text xml:space="preserve" x="179.00" y="688.40" font-family="Liberation Sans" font-size="12.6" font-weight="normal" fill="#1a1a1a" text-anchor="middle" textLength="5.8" lengthAdjust="spacingAndGlyphs" stroke="#1a1a1a" stroke-width="0.25">7</text>
<text xml:space="preserve" x="186.00" y="688.40" font-family="Liberation Sans" font-size="12.6" font-weight="normal" fill="#1a1a1a" text-anchor="middle" textLength="5.8" lengthAdjust="spacingAndGlyphs" stroke="#1a1a1a" stroke-width="0.25">9</text>
<text xml:space="preserve" x="193.00" y="688.40" font-family="Liberation Sans" font-size="12.6" font-weight="normal" fill="#1a1a1a" text-anchor="middle" >.</text>
<text xml:space="preserve" x="200.00" y="688.40" font-family="Liberation Sans" font-size="12.6" font-weight="normal" fill="#1a1a1a" text-anchor="middle" textLength="5.8" lengthAdjust="spacingAndGlyphs" stroke="#1a1a1a" stroke-width="0.25">5</text>
<text xml:space="preserve" x="232.25" y="688.40" font-family="Liberation Sans" font-size="12.6" font-weight="normal" fill="#1a1a1a" text-anchor="middle" textLength="5.8" lengthAdjust="spacingAndGlyphs" stroke="#1a1a1a" stroke-width="0.25">1</text>
<text xml:space="preserve" x="239.25" y="688.40" font-family="Liberation Sans" font-size="12.6" font-weight="normal" fill="#1a1a1a" text-anchor="middle" textLength="5.8" lengthAdjust="spacingAndGlyphs" stroke="#1a1a1a" stroke-width="0.25">4</text>
<text xml:space="preserve" x="282.40" y="688.40" font-family="Liberation Sans" font-size="12.6" font-weight="normal" fill="#1a1a1a" text-anchor="middle" textLength="5.8" lengthAdjust="spacingAndGlyphs" stroke="#1a1a1a" stroke-width="0.25">1</text>
<text xml:space="preserve" x="289.40" y="688.40" font-family="Liberation Sans" font-size="12.6" font-weight="normal" fill="#1a1a1a" text-anchor="middle" textLength="5.8" lengthAdjust="spacingAndGlyphs" stroke="#1a1a1a" stroke-width="0.25">6</text>
<text xml:space="preserve" x="325.70" y="688.40" font-family="Liberation Sans" font-size="12.6" font-weight="normal" fill="#1a1a1a" text-anchor="middle" textLength="5.8" lengthAdjust="spacingAndGlyphs" stroke="#1a1a1a" stroke-width="0.25">2</text>
<text xml:space="preserve" x="332.70" y="688.40" font-family="Liberation Sans" font-size="12.6" font-weight="normal" fill="#1a1a1a" text-anchor="middle" textLength="5.8" lengthAdjust="spacingAndGlyphs" stroke="#1a1a1a" stroke-width="0.25">2</text>
<text xml:space="preserve" x="339.70" y="688.40" font-family="Liberation Sans" font-size="12.6" font-weight="normal" fill="#1a1a1a" text-anchor="middle" >.</text>
<text xml:space="preserve" x="346.70" y="688.40" font-family="Liberation Sans" font-size="12.6" font-weight="normal" fill="#1a1a1a" text-anchor="middle" textLength="5.8" lengthAdjust="spacingAndGlyphs" stroke="#1a1a1a" stroke-width="0.25">5</text>
<line x1="477.10" y1="625.40" x2="477.10" y2="696.00" stroke="#666" stroke-width="1.0" />
<line x1="524.50" y1="625.40" x2="524.50" y2="696.00" stroke="#666" stroke-width="1.0" />
<line x1="572.40" y1="625.40" x2="572.40" y2="696.00" stroke="#666" stroke-width="1.0" />
<line x1="365.40" y1="672.70" x2="620.60" y2="672.70" stroke="#666" stroke-width="1.0" />
<line x1="428.40" y1="625.40" x2="620.60" y2="625.40" stroke="#222" stroke-width="1.3" />
<line x1="365.40" y1="649.40" x2="620.60" y2="649.40" stroke="#222" stroke-width="1.3" />
<line x1="428.40" y1="585.90" x2="428.40" y2="696.00" stroke="#222" stroke-width="1.3" />
<rect x="365.40" y="585.90" width="255.20" height="110.10" rx="0" stroke="#111" stroke-width="1.4" fill="none" />
<text xml:space="preserve" x="398.20" y="612.50" font-family="Liberation Sans" font-size="14" font-weight="normal" fill="#1a1a1a" text-anchor="middle" textLength="30" lengthAdjust="spacingAndGlyphs" >SAE</text>
<text xml:space="preserve" x="399.10" y="633.60" font-family="Liberation Sans" font-size="14" font-weight="normal" fill="#1a1a1a" text-anchor="middle" textLength="12.6" lengthAdjust="spacingAndGlyphs" >N.</text>
<text xml:space="preserve" x="522.20" y="600.80" font-family="Liberation Sans" font-size="11" font-weight="normal" fill="#1a1a1a" text-anchor="middle" textLength="134.7" lengthAdjust="spacingAndGlyphs" >GIUNTI  A  DISCHI  /  DISC  COUPLING</text>
<line x1="439.20" y1="604.20" x2="607.60" y2="604.20" stroke="#777" stroke-width="1.0" />
<text xml:space="preserve" x="523.40" y="616.80" font-family="Liberation Sans" font-size="12" font-weight="normal" fill="#1a1a1a" text-anchor="middle" textLength="168.4" lengthAdjust="spacingAndGlyphs" >DISCQUE  DE  MONOPALIER  /  SCHEIBENKUPPLUNG</text>
<text xml:space="preserve" x="452.75" y="641.80" font-family="Liberation Sans" font-size="14" font-weight="normal" fill="#1a1a1a" text-anchor="middle" textLength="7.5" lengthAdjust="spacingAndGlyphs" font-style="italic" >d</text>
<text xml:space="preserve" x="500.80" y="641.80" font-family="Liberation Sans" font-size="14" font-weight="normal" fill="#1a1a1a" text-anchor="middle" textLength="8.2" lengthAdjust="spacingAndGlyphs" font-style="italic" >L</text>
<text xml:space="preserve" x="548.45" y="641.80" font-family="Liberation Sans" font-size="14" font-weight="normal" fill="#1a1a1a" text-anchor="middle" textLength="16" lengthAdjust="spacingAndGlyphs" font-style="italic" >Q1</text>
<text xml:space="preserve" x="596.50" y="641.80" font-family="Liberation Sans" font-size="14" font-weight="normal" fill="#1a1a1a" text-anchor="middle" textLength="15" lengthAdjust="spacingAndGlyphs" font-style="italic" >S1</text>
<text xml:space="preserve" x="380.60" y="665.55" font-family="Liberation Sans" font-size="12.6" font-weight="normal" fill="#1a1a1a" text-anchor="middle" textLength="5.8" lengthAdjust="spacingAndGlyphs" stroke="#1a1a1a" stroke-width="0.25">1</text>
<text xml:space="preserve" x="387.40" y="665.55" font-family="Liberation Sans" font-size="12.6" font-weight="normal" fill="#1a1a1a" text-anchor="middle" textLength="5.8" lengthAdjust="spacingAndGlyphs" stroke="#1a1a1a" stroke-width="0.25">1</text>
<text xml:space="preserve" x="401.00" y="665.55" font-family="Liberation Sans" font-size="12.6" font-weight="normal" fill="#1a1a1a" text-anchor="middle" textLength="5.8" lengthAdjust="spacingAndGlyphs" stroke="#1a1a1a" stroke-width="0.25">1</text>
<text xml:space="preserve" x="407.80" y="665.55" font-family="Liberation Sans" font-size="12.6" font-weight="normal" fill="#1a1a1a" text-anchor="middle" >/</text>
<text xml:space="preserve" x="414.60" y="665.55" font-family="Liberation Sans" font-size="12.6" font-weight="normal" fill="#1a1a1a" text-anchor="middle" textLength="5.8" lengthAdjust="spacingAndGlyphs" stroke="#1a1a1a" stroke-width="0.25">2</text>
<text xml:space="preserve" x="436.45" y="665.55" font-family="Liberation Sans" font-size="12.6" font-weight="normal" fill="#1a1a1a" text-anchor="middle" textLength="5.8" lengthAdjust="spacingAndGlyphs" stroke="#1a1a1a" stroke-width="0.25">3</text>
<text xml:space="preserve" x="443.25" y="665.55" font-family="Liberation Sans" font-size="12.6" font-weight="normal" fill="#1a1a1a" text-anchor="middle" textLength="5.8" lengthAdjust="spacingAndGlyphs" stroke="#1a1a1a" stroke-width="0.25">5</text>
<text xml:space="preserve" x="450.05" y="665.55" font-family="Liberation Sans" font-size="12.6" font-weight="normal" fill="#1a1a1a" text-anchor="middle" textLength="5.8" lengthAdjust="spacingAndGlyphs" stroke="#1a1a1a" stroke-width="0.25">2</text>
<text xml:space="preserve" x="456.85" y="665.55" font-family="Liberation Sans" font-size="12.6" font-weight="normal" fill="#1a1a1a" text-anchor="middle" >.</text>
<text xml:space="preserve" x="463.65" y="665.55" font-family="Liberation Sans" font-size="12.6" font-weight="normal" fill="#1a1a1a" text-anchor="middle" textLength="5.8" lengthAdjust="spacingAndGlyphs" stroke="#1a1a1a" stroke-width="0.25">4</text>
<text xml:space="preserve" x="470.45" y="665.55" font-family="Liberation Sans" font-size="12.6" font-weight="normal" fill="#1a1a1a" text-anchor="middle" textLength="5.8" lengthAdjust="spacingAndGlyphs" stroke="#1a1a1a" stroke-width="0.25">2</text>
<text xml:space="preserve" x="491.30" y="665.55" font-family="Liberation Sans" font-size="12.6" font-weight="normal" fill="#1a1a1a" text-anchor="middle" textLength="5.8" lengthAdjust="spacingAndGlyphs" stroke="#1a1a1a" stroke-width="0.25">3</text>
<text xml:space="preserve" x="498.10" y="665.55" font-family="Liberation Sans" font-size="12.6" font-weight="normal" fill="#1a1a1a" text-anchor="middle" textLength="5.8" lengthAdjust="spacingAndGlyphs" stroke="#1a1a1a" stroke-width="0.25">9</text>
<text xml:space="preserve" x="504.90" y="665.55" font-family="Liberation Sans" font-size="12.6" font-weight="normal" fill="#1a1a1a" text-anchor="middle" >.</text>
<text xml:space="preserve" x="511.70" y="665.55" font-family="Liberation Sans" font-size="12.6" font-weight="normal" fill="#1a1a1a" text-anchor="middle" textLength="5.8" lengthAdjust="spacingAndGlyphs" stroke="#1a1a1a" stroke-width="0.25">6</text>
<text xml:space="preserve" x="532.15" y="665.55" font-family="Liberation Sans" font-size="12.6" font-weight="normal" fill="#1a1a1a" text-anchor="middle" textLength="5.8" lengthAdjust="spacingAndGlyphs" stroke="#1a1a1a" stroke-width="0.25">3</text>
<text xml:space="preserve" x="538.95" y="665.55" font-family="Liberation Sans" font-size="12.6" font-weight="normal" fill="#1a1a1a" text-anchor="middle" textLength="5.8" lengthAdjust="spacingAndGlyphs" stroke="#1a1a1a" stroke-width="0.25">3</text>
<text xml:space="preserve" x="545.75" y="665.55" font-family="Liberation Sans" font-size="12.6" font-weight="normal" fill="#1a1a1a" text-anchor="middle" textLength="5.8" lengthAdjust="spacingAndGlyphs" stroke="#1a1a1a" stroke-width="0.25">3</text>
<text xml:space="preserve" x="552.55" y="665.55" font-family="Liberation Sans" font-size="12.6" font-weight="normal" fill="#1a1a1a" text-anchor="middle" >.</text>
<text xml:space="preserve" x="559.35" y="665.55" font-family="Liberation Sans" font-size="12.6" font-weight="normal" fill="#1a1a1a" text-anchor="middle" textLength="5.8" lengthAdjust="spacingAndGlyphs" stroke="#1a1a1a" stroke-width="0.25">3</text>
<text xml:space="preserve" x="566.15" y="665.55" font-family="Liberation Sans" font-size="12.6" font-weight="normal" fill="#1a1a1a" text-anchor="middle" textLength="5.8" lengthAdjust="spacingAndGlyphs" stroke="#1a1a1a" stroke-width="0.25">7</text>
<text xml:space="preserve" x="593.80" y="665.55" font-family="Liberation Sans" font-size="12.6" font-weight="normal" fill="#1a1a1a" text-anchor="middle" textLength="5.8" lengthAdjust="spacingAndGlyphs" stroke="#1a1a1a" stroke-width="0.25">1</text>
<text xml:space="preserve" x="600.60" y="665.55" font-family="Liberation Sans" font-size="12.6" font-weight="normal" fill="#1a1a1a" text-anchor="middle" textLength="5.8" lengthAdjust="spacingAndGlyphs" stroke="#1a1a1a" stroke-width="0.25">1</text>
<text xml:space="preserve" x="394.20" y="688.85" font-family="Liberation Sans" font-size="12.6" font-weight="normal" fill="#1a1a1a" text-anchor="middle" textLength="5.8" lengthAdjust="spacingAndGlyphs" stroke="#1a1a1a" stroke-width="0.25">1</text>
<text xml:space="preserve" x="401.00" y="688.85" font-family="Liberation Sans" font-size="12.6" font-weight="normal" fill="#1a1a1a" text-anchor="middle" textLength="5.8" lengthAdjust="spacingAndGlyphs" stroke="#1a1a1a" stroke-width="0.25">4</text>
<text xml:space="preserve" x="436.45" y="688.85" font-family="Liberation Sans" font-size="12.6" font-weight="normal" fill="#1a1a1a" text-anchor="middle" textLength="5.8" lengthAdjust="spacingAndGlyphs" stroke="#1a1a1a" stroke-width="0.25">4</text>
<text xml:space="preserve" x="443.25" y="688.85" font-family="Liberation Sans" font-size="12.6" font-weight="normal" fill="#1a1a1a" text-anchor="middle" textLength="5.8" lengthAdjust="spacingAndGlyphs" stroke="#1a1a1a" stroke-width="0.25">6</text>
<text xml:space="preserve" x="450.05" y="688.85" font-family="Liberation Sans" font-size="12.6" font-weight="normal" fill="#1a1a1a" text-anchor="middle" textLength="5.8" lengthAdjust="spacingAndGlyphs" stroke="#1a1a1a" stroke-width="0.25">6</text>
<text xml:space="preserve" x="456.85" y="688.85" font-family="Liberation Sans" font-size="12.6" font-weight="normal" fill="#1a1a1a" text-anchor="middle" >.</text>
<text xml:space="preserve" x="463.65" y="688.85" font-family="Liberation Sans" font-size="12.6" font-weight="normal" fill="#1a1a1a" text-anchor="middle" textLength="5.8" lengthAdjust="spacingAndGlyphs" stroke="#1a1a1a" stroke-width="0.25">7</text>
<text xml:space="preserve" x="470.45" y="688.85" font-family="Liberation Sans" font-size="12.6" font-weight="normal" fill="#1a1a1a" text-anchor="middle" textLength="5.8" lengthAdjust="spacingAndGlyphs" stroke="#1a1a1a" stroke-width="0.25">2</text>
<text xml:space="preserve" x="491.30" y="688.85" font-family="Liberation Sans" font-size="12.6" font-weight="normal" fill="#1a1a1a" text-anchor="middle" textLength="5.8" lengthAdjust="spacingAndGlyphs" stroke="#1a1a1a" stroke-width="0.25">2</text>
<text xml:space="preserve" x="498.10" y="688.85" font-family="Liberation Sans" font-size="12.6" font-weight="normal" fill="#1a1a1a" text-anchor="middle" textLength="5.8" lengthAdjust="spacingAndGlyphs" stroke="#1a1a1a" stroke-width="0.25">5</text>
<text xml:space="preserve" x="504.90" y="688.85" font-family="Liberation Sans" font-size="12.6" font-weight="normal" fill="#1a1a1a" text-anchor="middle" >.</text>
<text xml:space="preserve" x="511.70" y="688.85" font-family="Liberation Sans" font-size="12.6" font-weight="normal" fill="#1a1a1a" text-anchor="middle" textLength="5.8" lengthAdjust="spacingAndGlyphs" stroke="#1a1a1a" stroke-width="0.25">4</text>
<text xml:space="preserve" x="532.15" y="688.85" font-family="Liberation Sans" font-size="12.6" font-weight="normal" fill="#1a1a1a" text-anchor="middle" textLength="5.8" lengthAdjust="spacingAndGlyphs" stroke="#1a1a1a" stroke-width="0.25">4</text>
<text xml:space="preserve" x="538.95" y="688.85" font-family="Liberation Sans" font-size="12.6" font-weight="normal" fill="#1a1a1a" text-anchor="middle" textLength="5.8" lengthAdjust="spacingAndGlyphs" stroke="#1a1a1a" stroke-width="0.25">3</text>
<text xml:space="preserve" x="545.75" y="688.85" font-family="Liberation Sans" font-size="12.6" font-weight="normal" fill="#1a1a1a" text-anchor="middle" textLength="5.8" lengthAdjust="spacingAndGlyphs" stroke="#1a1a1a" stroke-width="0.25">8</text>
<text xml:space="preserve" x="552.55" y="688.85" font-family="Liberation Sans" font-size="12.6" font-weight="normal" fill="#1a1a1a" text-anchor="middle" >.</text>
<text xml:space="preserve" x="559.35" y="688.85" font-family="Liberation Sans" font-size="12.6" font-weight="normal" fill="#1a1a1a" text-anchor="middle" textLength="5.8" lengthAdjust="spacingAndGlyphs" stroke="#1a1a1a" stroke-width="0.25">1</text>
<text xml:space="preserve" x="566.15" y="688.85" font-family="Liberation Sans" font-size="12.6" font-weight="normal" fill="#1a1a1a" text-anchor="middle" textLength="5.8" lengthAdjust="spacingAndGlyphs" stroke="#1a1a1a" stroke-width="0.25">5</text>
<text xml:space="preserve" x="587.00" y="688.85" font-family="Liberation Sans" font-size="12.6" font-weight="normal" fill="#1a1a1a" text-anchor="middle" textLength="5.8" lengthAdjust="spacingAndGlyphs" stroke="#1a1a1a" stroke-width="0.25">1</text>
<text xml:space="preserve" x="593.80" y="688.85" font-family="Liberation Sans" font-size="12.6" font-weight="normal" fill="#1a1a1a" text-anchor="middle" textLength="5.8" lengthAdjust="spacingAndGlyphs" stroke="#1a1a1a" stroke-width="0.25">3</text>
<text xml:space="preserve" x="600.60" y="688.85" font-family="Liberation Sans" font-size="12.6" font-weight="normal" fill="#1a1a1a" text-anchor="middle" >.</text>
<text xml:space="preserve" x="607.40" y="688.85" font-family="Liberation Sans" font-size="12.6" font-weight="normal" fill="#1a1a1a" text-anchor="middle" textLength="5.8" lengthAdjust="spacingAndGlyphs" stroke="#1a1a1a" stroke-width="0.25">5</text>
<rect x="680.40" y="571.60" width="284.10" height="88.80" rx="0" stroke="#111" stroke-width="1.2" fill="none" />
<line x1="680.40" y1="595.00" x2="964.50" y2="595.00" stroke="#333" stroke-width="0.9" />
<line x1="680.40" y1="616.80" x2="964.50" y2="616.80" stroke="#333" stroke-width="0.9" />
<line x1="680.40" y1="638.50" x2="964.50" y2="638.50" stroke="#333" stroke-width="0.9" />
<line x1="692.80" y1="584.50" x2="962.00" y2="584.50" stroke="#888" stroke-width="0.8" />
<line x1="692.80" y1="606.10" x2="962.00" y2="606.10" stroke="#888" stroke-width="0.8" />
<line x1="692.80" y1="627.90" x2="962.00" y2="627.90" stroke="#888" stroke-width="0.8" />
<line x1="692.80" y1="649.50" x2="962.00" y2="649.50" stroke="#888" stroke-width="0.8" />
<text xml:space="preserve" x="694.50" y="582.40" font-family="Liberation Sans" font-size="7.6" font-weight="bold" fill="#111" text-anchor="start" textLength="224" lengthAdjust="spacingAndGlyphs" >COPERCHIO REMOVIBILE PER ACCESSO AI TERMINALI PRINCIPALI</text>
<text xml:space="preserve" x="694.50" y="592.40" font-family="Liberation Sans" font-size="7.6" font-weight="normal" fill="#777" text-anchor="start" textLength="195.6" lengthAdjust="spacingAndGlyphs" font-style="italic" >REMOVABLE COVER  FOR ACCESS TO MAIN TERMINALS</text>
<text xml:space="preserve" x="686.30" y="588.50" font-family="Liberation Sans" font-size="8.5" font-weight="bold" fill="#111" text-anchor="middle" textLength="5.5" lengthAdjust="spacingAndGlyphs" >1)</text>
<text xml:space="preserve" x="694.50" y="604.00" font-family="Liberation Sans" font-size="7.6" font-weight="bold" fill="#111" text-anchor="start" textLength="196" lengthAdjust="spacingAndGlyphs" >PANNELLO REMOVIBILE PER ACCESSO AL REGOLATORE</text>
<text xml:space="preserve" x="694.50" y="614.40" font-family="Liberation Sans" font-size="7.6" font-weight="normal" fill="#777" text-anchor="start" textLength="147.8" lengthAdjust="spacingAndGlyphs" font-style="italic" >REMOVABLE PANEL FOR ACCESS TO AVR</text>
<text xml:space="preserve" x="686.30" y="609.90" font-family="Liberation Sans" font-size="8.5" font-weight="bold" fill="#111" text-anchor="middle" textLength="5.5" lengthAdjust="spacingAndGlyphs" >2)</text>
<text xml:space="preserve" x="694.50" y="625.50" font-family="Liberation Sans" font-size="7.6" font-weight="bold" fill="#111" text-anchor="start" textLength="111" lengthAdjust="spacingAndGlyphs" >VITE M10 PER MESSA A TERRA</text>
<text xml:space="preserve" x="694.50" y="636.30" font-family="Liberation Sans" font-size="7.6" font-weight="normal" fill="#777" text-anchor="start" textLength="98.4" lengthAdjust="spacingAndGlyphs" font-style="italic" >SCREW M10 FOR GROUNDING</text>
<text xml:space="preserve" x="686.30" y="631.40" font-family="Liberation Sans" font-size="8.5" font-weight="bold" fill="#111" text-anchor="middle" textLength="5.5" lengthAdjust="spacingAndGlyphs" >3)</text>
<text xml:space="preserve" x="694.50" y="647.10" font-family="Liberation Sans" font-size="7.6" font-weight="bold" fill="#111" text-anchor="start" textLength="211" lengthAdjust="spacingAndGlyphs" >CENTRO DI GRAVITA' IN CONFIGURAZIONE SAE 1 VOLANO 14</text>
<text xml:space="preserve" x="694.50" y="657.90" font-family="Liberation Sans" font-size="7.6" font-weight="normal" fill="#777" text-anchor="start" textLength="204.7" lengthAdjust="spacingAndGlyphs" font-style="italic" >GRAVITY CENTER IN CONFIGURATION SAE 1 FLYWHEEL 14</text>
<text xml:space="preserve" x="686.30" y="653.30" font-family="Liberation Sans" font-size="8.5" font-weight="bold" fill="#111" text-anchor="middle" textLength="5.5" lengthAdjust="spacingAndGlyphs" >4)</text>
<text x="772.3" y="688.4" font-family="Liberation Sans" font-size="18.6" fill="#222" stroke="#fff" stroke-width="0.3" textLength="37.3" lengthAdjust="spacingAndGlyphs">C.G.=</text>
<text x="821.0" y="688.4" font-family="Liberation Sans" font-size="18.6" fill="#222" stroke="#fff" stroke-width="0.3" textLength="68.2" lengthAdjust="spacingAndGlyphs">GRAVITY</text>
<text x="900.5" y="688.4" font-family="Liberation Sans" font-size="18.6" fill="#222" stroke="#fff" stroke-width="0.3" textLength="66.5" lengthAdjust="spacingAndGlyphs">CENTER</text>
</svg></body></html>
